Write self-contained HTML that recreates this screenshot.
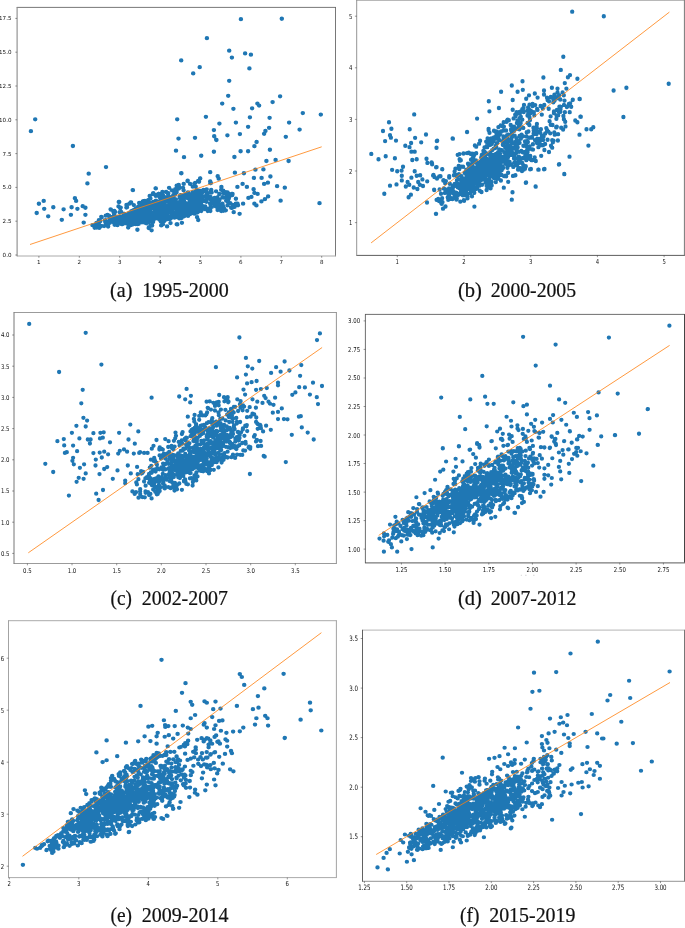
<!DOCTYPE html>
<html lang="en"><head><meta charset="utf-8"><title>Scatter plots</title>
<style>html,body{margin:0;padding:0;background:#fff}svg{display:block}</style></head>
<body><svg width="685" height="928" viewBox="0 0 685 928">
<rect width="685" height="928" fill="#fff"/>
<g id="p0"><g transform="scale(1,0.9556)"><path d="M184.3 224.1h0 M158.4 219.2h0 M202.1 204.9h0 M175.3 212h0 M175.6 208.9h0 M201.8 217.4h0 M158 225.3h0 M153 232.4h0 M119.7 229.1h0 M158.2 228.1h0 M132 225.3h0 M119.7 231.5h0 M143.3 227.3h0 M165.5 207.1h0 M174.4 208.7h0 M192.8 211.3h0 M156.9 217.4h0 M129.5 222.4h0 M194.5 222.9h0 M161.1 211.7h0 M182.9 217h0 M134.9 231.1h0 M197.6 208h0 M152 212.7h0 M164.8 222.1h0 M200.1 216.1h0 M122.7 231.5h0 M192.5 203.9h0 M179.7 221.9h0 M131.6 228.1h0 M197 220.9h0 M179.9 207.3h0 M169.6 222.1h0 M184.5 219.8h0 M156.3 217h0 M151.9 228.1h0 M118.9 231.1h0 M121.7 234.6h0 M123.9 223.9h0 M136 229.4h0 M198.1 221.6h0 M182.1 205.3h0 M130.8 235.6h0 M171 226.1h0 M177.2 227h0 M134.7 221.9h0 M145 232.8h0 M200.1 217.1h0 M171 206.2h0 M142.1 224.1h0 M142.3 226.8h0 M188.7 215.5h0 M137 230.2h0 M156.2 217.9h0 M177.6 223.3h0 M154.1 229.2h0 M162 207.1h0 M149.8 228.1h0 M175.1 215.4h0 M178.2 225.7h0 M188.3 201.5h0 M141.2 227.9h0 M120.7 226.8h0 M160.8 216h0 M193.2 207.5h0 M156.1 214.5h0 M163.6 215.4h0 M189.8 222.6h0 M174.4 224.2h0 M136.9 217.8h0 M180 223.7h0 M129.6 225.5h0 M177.1 212.6h0 M121 227.1h0 M165.4 215.9h0 M165 216.6h0 M146.5 226.3h0 M195.1 213.3h0 M195.5 222.5h0 M148.7 223.3h0 M166.5 222.6h0 M172.4 221.3h0 M203.6 217.5h0 M137.5 226.5h0 M155.4 220.6h0 M141 220.3h0 M185.8 213.2h0 M180.4 220h0 M148.9 218.2h0 M164.1 228.7h0 M191.5 214.7h0 M190.1 218.1h0 M185.6 204h0 M159.3 217.5h0 M167.7 206.9h0 M201.2 220.9h0 M134.3 230.3h0 M133.6 225.1h0 M121.3 231.4h0 M202.4 201.3h0 M180.4 204.1h0 M137.9 225.5h0 M148.7 232.9h0 M146.1 225.7h0 M143.9 225.5h0 M157 224.8h0 M178.9 216.3h0 M132.3 224.9h0 M193.1 215.1h0 M142.4 228h0 M198.6 219.3h0 M176.4 211.7h0 M174.2 222h0 M146.8 216.3h0 M158.8 227.5h0 M200.6 202.5h0 M136.8 230.5h0 M154.3 227.3h0 M167 218.1h0 M162.9 228.4h0 M138.6 234.3h0 M193.4 210.7h0 M151.8 232.1h0 M185.1 224.2h0 M158.3 214.6h0 M145.9 227.1h0 M156.1 217.9h0 M156.7 227.3h0 M138.2 216.3h0 M188.3 219.5h0 M179.4 220.1h0 M165.2 228h0 M166.2 209.3h0 M156.2 217.6h0 M158.8 229.1h0 M193.2 206.4h0 M167.1 229.2h0 M176.1 215h0 M157.7 213.9h0 M170.9 219.1h0 M179.8 222.9h0 M143.3 217.9h0 M149.4 217.5h0 M128.3 234.9h0 M133.5 219.8h0 M164.3 227.2h0 M202.2 207.3h0 M164.8 217.6h0 M201.1 214.7h0 M192.2 205.9h0 M144.8 229.8h0 M200.1 219.3h0 M132.1 227.8h0 M163.4 207.8h0 M177.1 217.7h0 M153 227.1h0 M188.1 202.9h0 M119.7 229.4h0 M133.7 224.2h0 M198 213.6h0 M155.9 216.9h0 M184 204.8h0 M203.1 210.5h0 M181.9 218.2h0 M169 207.2h0 M127 229h0 M180.2 226.8h0 M128.1 225.7h0 M195.7 221.3h0 M131.4 220.9h0 M192.4 212.5h0 M191.1 221.2h0 M169.9 213.9h0 M198.2 220.1h0 M167.2 217.3h0 M197.2 220.7h0 M160 229.2h0 M119.2 227.1h0 M174.5 227.8h0 M188.3 215.1h0 M121.8 226.9h0 M161.4 230.6h0 M194.8 204.2h0 M149.2 214.1h0 M152.3 213.1h0 M141.4 230.2h0 M177 220.8h0 M170 211h0 M191.6 208h0 M145.2 226.1h0 M150.2 221.7h0 M193 206.5h0 M145.4 231.2h0 M187.1 222.1h0 M139.8 227.4h0 M148.6 217.5h0 M188.7 212.7h0 M146.1 226.5h0 M195.2 211.8h0 M136.4 234.1h0 M125.6 233.5h0 M156 225.1h0 M168 211.1h0 M173.1 209.7h0 M198.6 208.8h0 M122.6 234.5h0 M157 214.7h0 M195.5 204.3h0 M199.8 209.2h0 M166.8 215.5h0 M166.3 226.2h0 M174.9 203.9h0 M184.3 212h0 M165.5 221.8h0 M148.6 226.1h0 M174.5 214.2h0 M198.4 219.8h0 M150 226.3h0 M153.4 228.2h0 M128.6 227.3h0 M129.5 222.8h0 M138.4 223.4h0 M122.8 230.2h0 M142.5 214.7h0 M142.3 220.8h0 M154.7 211.7h0 M192.2 206.5h0 M172.6 219.5h0 M195.9 215.7h0 M146.6 220.1h0 M191.1 207.1h0 M146.9 227.5h0 M162 217.7h0 M155.9 209.9h0 M200.8 214.4h0 M176.1 225.1h0 M149.3 222.5h0 M163 214.7h0 M192.2 214.6h0 M191.9 221.5h0 M145.4 231.6h0 M118 229.5h0 M163 226.8h0 M167 225.4h0 M164 231.4h0 M150.8 225.7h0 M135.6 234.4h0 M183 218.5h0 M181.2 227.7h0 M195.7 200.5h0 M184 215.8h0 M140.7 227.2h0 M183.2 211.8h0 M146.4 231.8h0 M144.7 217.4h0 M182.6 205.4h0 M160.9 208.9h0 M167 223.8h0 M173.4 213.3h0 M124.8 225.8h0 M137.8 228.7h0 M171.1 216h0 M124.9 232.5h0 M133.3 220.9h0 M189.5 213.3h0 M176.3 214.5h0 M161 224.1h0 M156 211.2h0 M140.9 227.4h0 M181.4 221.6h0 M150.7 223.6h0 M142.6 225.1h0 M197.8 213.9h0 M139.3 229.8h0 M161.6 223.2h0 M161.5 207.9h0 M153.8 222.5h0 M129.6 233.9h0 M147 216.8h0 M188 226h0 M132.8 233.5h0 M166 228.1h0 M191.2 220.8h0 M145.6 223.2h0 M169.6 220.5h0 M148.5 220h0 M188 219.6h0 M182.3 206.9h0 M195.2 207.1h0 M198.7 212.3h0 M187.4 202.6h0 M159.6 230h0 M164.5 224h0 M181.8 211.2h0 M135.2 222h0 M173.2 214.3h0 M118.5 228.1h0 M171.8 219h0 M192.8 201h0 M136.7 222.6h0 M194.1 205h0 M161.9 210.7h0 M190.6 222.5h0 M154.6 217.7h0 M186.3 218.2h0 M161.9 215h0 M123.9 230.4h0 M166.5 216.4h0 M155 219.7h0 M157.1 228.6h0 M141.8 231.6h0 M139.1 233.4h0 M136.7 230.9h0 M174 222.5h0 M189.3 205.2h0 M192.8 222.7h0 M137 232.5h0 M161.8 224.1h0 M164.7 226.9h0 M189.7 219.2h0 M195.1 207.5h0 M121 227.7h0 M145.3 216.3h0 M149.7 221.8h0 M164.4 213.6h0 M187.2 219.8h0 M173.8 222.1h0 M159.3 219.1h0 M190.5 214.7h0 M173.3 206.6h0 M172.4 226h0 M151.7 217.4h0 M145.5 223.5h0 M176.7 214.5h0 M171.9 221.5h0 M137.3 234.6h0 M164.2 214.2h0 M158 219h0 M182.3 204.9h0 M123 234.1h0 M181.2 221.7h0 M176.6 215.7h0 M145.5 233.3h0 M132.5 223.6h0 M197.2 222.5h0 M157.5 217.9h0 M201.6 211.2h0 M189 203.1h0 M151.3 227.8h0 M179.3 228.6h0 M165.5 209.9h0 M147.7 228.4h0 M148.6 221.1h0 M129 227.5h0 M171.7 209.2h0 M194.6 204.9h0 M142.5 220.8h0 M144.2 230.5h0 M173.3 204.3h0 M167.7 208.1h0 M141.1 221.4h0 M137.8 232.1h0 M180.7 224.9h0 M177.7 216.5h0 M180.8 204.2h0 M185.2 203.4h0 M124.7 230.7h0 M167 222h0 M186.4 222h0 M186 221.8h0 M139.3 233.2h0 M118.7 233.8h0 M182.9 208h0 M122.9 233.1h0 M189 213.7h0 M125 224.4h0 M141 225h0 M153.9 213.8h0 M193.5 211.8h0 M173.1 226.1h0 M185.5 213.4h0 M142.8 221.7h0 M160.8 231.7h0 M181.8 206h0 M158.5 213.3h0 M194.8 221.3h0 M183.5 222.6h0 M162 224.5h0 M124.1 230.1h0 M171.3 223.6h0 M169.4 221.1h0 M130.8 227.4h0 M164 226h0 M157 227.2h0 M130.6 230h0 M166.6 217.8h0 M193 216.5h0 M138 220.7h0 M198.8 209.9h0 M180.3 224.3h0 M157.4 211.9h0 M157.5 228.2h0 M172 218.6h0 M195 207.8h0 M158.3 227.4h0 M136 232.7h0 M190.5 214.5h0 M197.5 212.2h0 M159.8 224.9h0 M201.1 207.5h0 M124.6 223.9h0 M179.2 211.5h0 M160.2 228.1h0 M166.2 228.1h0 M167.7 229h0 M140.7 224.9h0 M168.4 217.6h0 M181.7 218.3h0 M165.8 206.5h0 M122 233.7h0 M160.8 229h0 M180.1 215.9h0 M143.4 232.5h0 M130.3 223.5h0 M187.1 220.1h0 M184.1 226.4h0 M157 210.9h0 M179.2 215h0 M190.8 217.6h0 M186.6 220.5h0 M152.6 213.3h0 M142.9 218.8h0 M174.7 208.7h0 M138.7 224.9h0 M135.8 222.1h0 M148.6 217.1h0 M193.5 209.9h0 M142.9 220.7h0 M196.1 218.2h0 M137.4 224.4h0 M183.5 204.4h0 M179.7 216.1h0 M130 225.2h0 M185.2 215.5h0 M148.7 214h0 M146 230.4h0 M152 227.3h0 M184.6 205.8h0 M131.3 224.8h0 M194.2 214.4h0 M181.3 205.9h0 M160.1 207.3h0 M144.5 229.4h0 M152.3 227.9h0 M128.7 223.3h0 M121.7 230.6h0 M136.2 230.5h0 M188.3 207.7h0 M184 210.4h0 M130.2 234h0 M141.6 225.7h0 M129.6 234.6h0 M190 210.2h0 M157 219.1h0 M164.7 211.1h0 M134.5 234h0 M195.2 213.5h0 M179.5 213.2h0 M201.8 208.3h0 M197 208.4h0 M172.3 211.7h0 M199.1 201.8h0 M194.3 223.6h0 M151.4 226.8h0 M141.2 218.6h0 M175.4 223.8h0 M135.9 233.9h0 M177.7 216.4h0 M138.1 232.3h0 M164.4 209.1h0 M186.6 220.2h0 M195.2 218.4h0 M198.4 212.8h0 M169.6 226.9h0 M170.8 228.4h0 M139.5 227.8h0 M149.1 226.9h0 M199 210.1h0 M198.9 204.4h0 M195.8 207.3h0 M139.9 227.1h0 M194.4 213.4h0 M184.9 213h0 M203.7 216.3h0 M135 232.2h0 M186.9 207.1h0 M141.9 232.6h0 M141.2 222.7h0 M146.3 217h0 M144.2 228.3h0 M195.6 206.1h0 M196.4 218.2h0 M180 226.6h0 M183.2 217.9h0 M135.8 225.1h0 M190 205.5h0 M196 215.7h0 M148.2 225h0 M160.2 215.2h0 M175.8 208.6h0 M202 209.3h0 M135.6 218.6h0 M177.5 224.3h0 M165.9 229.9h0 M196.3 219.4h0 M203.2 209.4h0 M125.8 226.3h0 M123.8 230.3h0 M164.6 216.2h0 M180.7 209.4h0 M140.6 217.6h0 M196.7 211.7h0 M163.1 228.2h0 M158.6 222.3h0 M187.9 216.1h0 M130.7 225.9h0 M130.5 224.9h0 M147.9 231.6h0 M157.8 218.9h0 M181.5 228.2h0 M140.2 219.3h0 M179.7 221.1h0 M139.7 229.9h0 M160.9 229h0 M127 231.4h0 M147.9 218.3h0 M153.3 211.4h0 M129.8 224.6h0 M160.3 211.6h0 M166.1 223.1h0 M133.1 234.7h0 M169.8 229.5h0 M179.7 205.7h0 M182.7 210.3h0 M166.2 219.6h0 M178.1 227.5h0 M162.4 217.5h0 M173.4 223.5h0 M123.4 226.3h0 M152.7 226.6h0 M201.4 208.9h0 M143.4 227.4h0 M181.3 225.8h0 M151.6 215.1h0 M135 224.3h0 M173.4 221.8h0 M152.2 218.2h0 M176.1 217.2h0 M199.5 219.6h0 M137 223.5h0 M123.7 228.8h0 M117.4 232h0 M178.4 213.1h0 M135.6 230.7h0 M144.8 216.8h0 M133.2 229.6h0 M135.3 234.1h0 M180.3 217h0 M200.6 203.2h0 M201 213.9h0 M152.4 231.8h0 M147.1 217.5h0 M136.8 226.6h0 M165.4 214.9h0 M196.4 210.3h0 M186.3 221.4h0 M171.1 221.7h0 M139.4 217.3h0 M201.4 220.1h0 M144.6 224.7h0 M140.8 224.1h0 M118.9 232.7h0 M141.1 217.6h0 M163.9 222.2h0 M202.9 206.1h0 M121.3 232.3h0 M120.3 231.6h0 M185.9 215.3h0 M160.8 228.6h0 M135.1 220.3h0 M179.7 213.2h0 M146.3 233.6h0 M124.9 228.9h0 M122.3 234.6h0 M171.8 227.1h0 M176.9 227.2h0 M138.5 229.9h0 M135.7 224.6h0 M175.2 223.1h0 M165.8 219.2h0 M177.8 226.2h0 M161.9 212.2h0 M201 205.6h0 M157.1 211.8h0 M127.2 225.5h0 M133.5 233h0 M166.3 215.2h0 M185.3 212.3h0 M181 212.6h0 M149.7 212.8h0 M164.5 209.7h0 M170.5 222.1h0 M181.4 212.2h0 M133.1 227.5h0 M154.2 222.7h0 M153.2 230.9h0 M155.6 217.4h0 M149.6 229.5h0 M120.5 234h0 M174.6 209.3h0 M161.9 221.7h0 M124.6 233.2h0 M196.1 213.3h0 M186.5 219.4h0 M153.7 216.2h0 M126.7 231h0 M159.3 217.4h0 M192.7 219.2h0 M200.4 217.1h0 M201.9 215.5h0 M163 220.5h0 M191.3 223.1h0 M117.5 232.2h0 M150 212.4h0 M199.8 215.4h0 M137.6 229.4h0 M150.9 215.2h0 M198 218.2h0 M200.5 213.6h0 M190.5 205.3h0 M195.5 206.6h0 M155.2 224.7h0 M187.8 215.8h0 M190.9 215.3h0 M188.3 216.4h0 M184.5 223.7h0 M193.6 203.3h0 M175 217.4h0 M187.7 204.7h0 M198.2 210.4h0 M176.2 216.3h0 M195.9 222.7h0 M189.4 220.5h0 M190 224.1h0 M143.9 227.4h0 M180.4 214.1h0 M161.5 219.2h0 M147.8 232.6h0 M135.3 233.9h0 M125.5 232.7h0 M127.9 232h0 M161 218.8h0 M158.2 211.2h0 M162.7 212.9h0 M180.8 219.7h0 M139.4 225.6h0 M137.3 224.2h0 M171.1 210.9h0 M176.4 221.7h0 M162.3 216.4h0 M120.9 227.2h0 M125.4 233.5h0 M176.6 227h0 M172.7 226.6h0 M159.4 229.5h0 M145.1 216.9h0 M193.3 208.4h0 M169.6 206.2h0 M155.3 212.5h0 M194.8 213.8h0 M211 209.4h0 M228.9 206.9h0 M222.8 215h0 M214.3 210.9h0 M207.7 202.6h0 M228.7 203h0 M217.9 211.8h0 M227.7 204.7h0 M226.3 203.6h0 M225.9 201.2h0 M221 217.4h0 M217.4 207.5h0 M205.3 218.3h0 M219.3 203h0 M212.2 209.9h0 M215.1 214h0 M207 208.5h0 M231.1 203.2h0 M204.7 210h0 M203.5 198.6h0 M226.3 207.6h0 M228.7 207.9h0 M221.4 215h0 M217.4 206.7h0 M211.1 199.7h0 M214.6 207.2h0 M231.2 217.4h0 M227 202.5h0 M207.2 205.6h0 M207.8 220.8h0 M208 219h0 M218.7 218.2h0 M206.7 203.6h0 M220.1 214.3h0 M219.9 214.9h0 M230.4 204.7h0 M217.6 218h0 M232.2 204.2h0 M237.5 213.2h0 M211.3 207.5h0 M210.1 219.6h0 M238 214.8h0 M219.2 209.9h0 M210.8 215h0 M227.2 205.4h0 M227.5 206.1h0 M222.9 216.1h0 M211.8 216.5h0 M227.9 202.4h0 M221.5 216.4h0 M217.6 219.8h0 M230.2 212.6h0 M222.4 213.2h0 M210.4 206.1h0 M232.5 203h0 M234.1 214.9h0 M215.9 214.6h0 M211.3 213h0 M235.8 213.2h0 M223.2 199.5h0 M232.5 214.3h0 M237.2 214.2h0 M211.6 201.5h0 M223.2 220.6h0 M203.5 199h0 M224 218.1h0 M226.2 210h0 M228.3 206.6h0 M215.7 208h0 M206.4 211.1h0 M205.1 216h0 M210.4 206.6h0 M235.9 208h0 M221.3 220.9h0 M223.2 206.8h0 M221.2 198.6h0 M232.2 217.5h0 M213.3 210.9h0 M227.5 201.4h0 M232.3 203.9h0 M208.3 218.3h0 M204.4 205.7h0 M224.8 220.1h0 M232.8 216h0 M210.3 220.9h0 M216.1 200.2h0 M211.2 198.7h0 M210.3 201.4h0 M227.2 203.4h0 M219.5 208.9h0 M206.3 200.9h0 M211.8 209.2h0 M215.9 216h0 M209.8 206.3h0 M231.7 202.9h0 M215.9 215.8h0 M234.5 216.5h0 M216.2 209.6h0 M228.1 202.5h0 M227.9 210.1h0 M222.5 218.9h0 M219.2 216.5h0 M218.3 211.5h0 M222.5 206.4h0 M210.1 213h0 M206.7 198.1h0 M204.6 218.7h0 M217.6 207.2h0 M216.8 208.9h0 M227.5 210.9h0 M215.8 212.9h0 M223.3 202h0 M225.8 220.1h0 M227.5 215h0 M214.7 211.4h0 M112.4 227.9h0 M109.7 228.3h0 M112.3 230.7h0 M94.8 235.4h0 M114.6 229.7h0 M100.2 231.5h0 M96.5 233.3h0 M115 229.7h0 M114.2 224.6h0 M109.1 232.8h0 M104.8 230.6h0 M117.4 235.6h0 M114.6 235.2h0 M115.2 232.6h0 M96.6 238.1h0 M112.8 227.1h0 M110.3 228.3h0 M107.1 234.9h0 M97 235.3h0 M100.1 237.4h0 M116.6 229.3h0 M108.1 237.1h0 M92.5 235.6h0 M94.7 238.4h0 M105.5 230.5h0 M115.8 227.9h0 M109.7 231.3h0 M98.9 230.5h0 M105.4 232.6h0 M113 229.3h0 M115.4 226.8h0 M117.1 227.1h0 M113 232.4h0 M111.9 227.2h0 M104.1 236.6h0 M116.5 234.3h0 M109.6 233.3h0 M101.2 236.5h0 M99.1 236.6h0 M108.3 234.7h0 M99 234.2h0 M99.7 230.6h0 M142.3 211.9h0 M133.8 214.6h0 M113.6 222.1h0 M119.9 217.4h0 M145.8 211.2h0 M144.6 211.4h0 M126.5 214.4h0 M142.7 211.1h0 M119.7 222.1h0 M109 225.7h0 M129.4 213.1h0 M127 216.9h0 M139.2 212.4h0 M120.4 218h0 M141.3 212.3h0 M146.1 212.6h0 M118.5 216h0 M121.1 221.7h0 M126.4 217.2h0 M105.8 225.7h0 M143.2 210.6h0 M148.2 209.5h0 M120.7 217.2h0 M107.6 224.8h0 M150.8 236.2h0 M151.6 241h0 M137.4 240.4h0 M170.5 233.4h0 M198.2 230.2h0 M181.9 233.2h0 M148.7 238.7h0 M148.9 237.8h0 M167.1 236.9h0 M152.1 236h0 M161.2 235.9h0 M177.3 234.9h0 M128.2 238.1h0 M163 234.7h0 M210.9 191.6h0 M176.6 201h0 M195.2 191.3h0 M178.7 193.5h0 M197.9 199.5h0 M195.7 195.3h0 M194.5 192.1h0 M174.4 202h0 M198.8 199.4h0 M168.1 202.9h0 M140.3 216.4h0 M178.9 197.3h0 M162.4 200.9h0 M144.9 210.3h0 M200.2 199.9h0 M162.2 202.3h0 M171.9 199.2h0 M160.6 203.1h0 M210.3 191.7h0 M199 190.2h0 M183.7 192.5h0 M198.2 189.2h0 M149.7 205.1h0 M168.3 202h0 M150.4 207.7h0 M177.9 196.9h0 M173.5 199.5h0 M158.8 205.2h0 M176.4 200.1h0 M176.2 201.5h0 M183 196.6h0 M179.2 195.9h0 M175.3 198h0 M156.4 203.9h0 M143.9 214.4h0 M183.6 199.2h0 M166.1 200.9h0 M155.8 205h0 M163.1 204.7h0 M148.5 209.6h0 M192.8 195.4h0 M187.9 201.3h0 M196.7 199h0 M148.7 209.3h0 M197.8 200.7h0 M35.2 124.9h0 M30.9 137.3h0 M72.9 152.8h0 M240.9 20.1h0 M281.8 19.6h0 M206.9 40h0 M229.2 53h0 M245.1 55.9h0 M250.9 57.2h0 M231.9 60.3h0 M181.2 63.2h0 M199.7 70.3h0 M249.4 71.6h0 M193.2 76.8h0 M229.2 84.6h0 M228.2 100.3h0 M280.1 100.8h0 M272.6 106.8h0 M222.2 108.4h0 M257.4 108.4h0 M259.1 110.5h0 M252.1 113.4h0 M233.4 113.9h0 M302.8 118.3h0 M320.8 119.9h0 M205.9 122.3h0 M249.9 122.8h0 M269.6 123.3h0 M177.2 124.9h0 M235.9 128.3h0 M289.1 128.3h0 M219.4 129.3h0 M248.1 132.7h0 M269.1 133.8h0 M299.6 135.6h0 M213.9 136.1h0 M265.4 137.1h0 M264.1 140h0 M239.9 140.3h0 M227.4 141.6h0 M214.2 142.6h0 M285.8 143.2h0 M195 144.2h0 M178.5 145h0 M216.2 146.3h0 M256.6 148.6h0 M254.4 153h0 M216.4 146.5h0 M176 157.7h0 M213.9 158.8h0 M240.6 158.3h0 M248.1 158.3h0 M269.9 156.7h0 M184 164.5h0 M201.2 163h0 M234.4 164.3h0 M266.4 168.5h0 M275.6 167.4h0 M288.6 168.5h0 M181.2 181.3h0 M210.2 180.2h0 M234.9 180.7h0 M243.9 181.3h0 M255.4 177.6h0 M263.4 177.3h0 M217.7 184.4h0 M218.7 187h0 M200.2 186.7h0 M253.9 186.2h0 M261.6 186.2h0 M270.4 184.7h0 M187.7 189.1h0 M210.2 189.9h0 M242.6 192.5h0 M264.1 192.5h0 M267.9 191.2h0 M277.1 194.8h0 M284.8 196.4h0 M176.7 194.3h0 M237.4 195.6h0 M246.9 195.6h0 M221.4 195.6h0 M253.6 198h0 M254.4 201.9h0 M257.6 202.9h0 M268.1 205.6h0 M264.9 208.4h0 M261.4 210.8h0 M280.6 210h0 M319.5 212.6h0 M256.4 215h0 M254.4 213.1h0 M248.4 207.1h0 M251.4 206.1h0 M243.1 213.1h0 M239.6 223.8h0 M233.7 222h0 M176.7 234.8h0 M106 174.8h0 M88.7 181.7h0 M87.4 191.9h0 M132.9 199h0 M155.8 197.2h0 M152.8 203h0 M158.8 203h0 M38.9 213.2h0 M43.7 210.3h0 M44.2 218.5h0 M36.7 222.9h0 M53.3 216.9h0 M48.2 226.4h0 M63.6 219h0 M61.8 230h0 M71.6 216.9h0 M70.9 224.8h0 M74.9 207.4h0 M76.1 210.3h0 M77.4 218.5h0 M82.7 215.8h0 M85.4 217.4h0 M85.4 224.8h0 M83.7 232.9h0 M118.8 211.4h0 M130.7 211.9h0 M110.6 219h0 M114.3 220.6h0 M101.3 226.9h0 M94.2 236.1h0 M99.2 238.5h0 M181.4 181.3h0 M200.1 186.8h0 M187.5 189.5h0 M190.1 192.5h0 M132.7 198.9h0 M155.6 197.1h0 M177 194.7h0 M169.1 196.5h0 M153.3 202h0 M158.6 202.9h0 M119.2 211.4h0 M131.1 211.9h0 M110.9 219.4h0 M115.1 221.8h0 M101.6 227.3h0 M93.8 235.9h0 M99 237.8h0 M177 234.6h0 M197.1 227.3h0" fill="none" stroke="#1f77b4" stroke-width="4.50" stroke-linecap="round"/></g>
<path d="M30.0 244.5L321.7 146.8" stroke="#ff7f0e" stroke-width="0.80" fill="none"/>
<path d="M16.8 7.4H335.8" stroke="#555" stroke-width="0.80"/>
<path d="M335.5 7.1V256.3" stroke="#555" stroke-width="0.80"/>
<path d="M16.8 256.0H335.8" stroke="#aaa" stroke-width="1.00"/>
<path d="M17.1 7.1V256.3" stroke="#8a8a8a" stroke-width="1.10"/>
<path d="M17.1 255.0h-1.8M17.1 221.2h-1.8M17.1 187.4h-1.8M17.1 153.6h-1.8M17.1 119.8h-1.8M17.1 86.0h-1.8M17.1 52.2h-1.8M17.1 18.4h-1.8M38.9 256.0v1.8M79.3 256.0v1.8M119.7 256.0v1.8M160.1 256.0v1.8M200.5 256.0v1.8M240.9 256.0v1.8M281.3 256.0v1.8M321.7 256.0v1.8" stroke="#333" stroke-width="0.5" fill="none"/>
<g font-family="'DejaVu Sans','Liberation Sans',sans-serif" font-size="5.60" fill="#111"><text transform="translate(11.5,257.0) scale(1,1.000)" text-anchor="end">0.0</text><text transform="translate(11.5,223.2) scale(1,1.000)" text-anchor="end">2.5</text><text transform="translate(11.5,189.4) scale(1,1.000)" text-anchor="end">5.0</text><text transform="translate(11.5,155.6) scale(1,1.000)" text-anchor="end">7.5</text><text transform="translate(11.5,121.8) scale(1,1.000)" text-anchor="end">10.0</text><text transform="translate(11.5,88.0) scale(1,1.000)" text-anchor="end">12.5</text><text transform="translate(11.5,54.2) scale(1,1.000)" text-anchor="end">15.0</text><text transform="translate(11.5,20.4) scale(1,1.000)" text-anchor="end">17.5</text><text transform="translate(38.9,264.0) scale(1,1.000)" text-anchor="middle">1</text><text transform="translate(79.3,264.0) scale(1,1.000)" text-anchor="middle">2</text><text transform="translate(119.7,264.0) scale(1,1.000)" text-anchor="middle">3</text><text transform="translate(160.1,264.0) scale(1,1.000)" text-anchor="middle">4</text><text transform="translate(200.5,264.0) scale(1,1.000)" text-anchor="middle">5</text><text transform="translate(240.9,264.0) scale(1,1.000)" text-anchor="middle">6</text><text transform="translate(281.3,264.0) scale(1,1.000)" text-anchor="middle">7</text><text transform="translate(321.7,264.0) scale(1,1.000)" text-anchor="middle">8</text></g></g>
<g id="p1"><g transform="scale(1,1.0233)"><path d="M528.4 110.5h0 M455.7 192.3h0 M524.9 141.9h0 M481.1 169.8h0 M479.3 158.7h0 M439.6 185.2h0 M508.3 145.3h0 M453.8 187.3h0 M468 160h0 M523.3 125h0 M473.8 186.5h0 M493 138h0 M530.8 108.2h0 M493.2 171.3h0 M470.6 185.1h0 M449.1 191.1h0 M460 157h0 M504.8 156.6h0 M491.7 181.2h0 M463.9 187.6h0 M474.9 142.2h0 M494.7 156.8h0 M458.7 180.6h0 M519.4 126.4h0 M448.7 189.8h0 M533.7 127.6h0 M533.4 124.9h0 M490.5 154.5h0 M447.7 192.7h0 M525.8 153.7h0 M518.4 164.3h0 M507.4 146.5h0 M494 127.8h0 M516.1 126.1h0 M450.4 194.3h0 M509.2 161.2h0 M518.9 153.2h0 M498.7 129.4h0 M540 141.7h0 M456.3 189.1h0 M499.2 137.1h0 M503.4 136.6h0 M493.9 173.9h0 M487.1 138.9h0 M503.4 127.6h0 M518.6 137.7h0 M519.6 115.5h0 M512 139.7h0 M491.2 163.6h0 M520 120.5h0 M472.2 161.7h0 M499.3 131.8h0 M499.2 146.1h0 M527.7 112.5h0 M521.6 131.7h0 M521.7 165h0 M445.5 187.4h0 M451.5 186.4h0 M500.4 165.1h0 M504 135.8h0 M529.5 143.1h0 M470.6 170.1h0 M498.6 132.8h0 M454 182.1h0 M498.6 160.3h0 M509.9 136.7h0 M471.1 186.2h0 M507.7 117h0 M516.6 109.7h0 M522.2 159.3h0 M517.1 161.7h0 M513.2 144.7h0 M506.9 143.3h0 M488.6 127h0 M487.6 137h0 M520.7 120.3h0 M512 123.7h0 M489.9 138.3h0 M475.9 156.7h0 M490.5 164h0 M514 123.8h0 M504 172.1h0 M498.4 174.5h0 M515.4 171.2h0 M490.7 167.2h0 M493.8 145.2h0 M525 138.2h0 M491 139.1h0 M505.5 171.7h0 M528.9 154.7h0 M487.1 175.8h0 M454.7 189.3h0 M488.9 162.3h0 M486 155.9h0 M506.6 119h0 M520.2 164.3h0 M475.7 184.8h0 M449.8 179.6h0 M447.6 187.9h0 M459.5 184h0 M481.5 187.7h0 M526.5 133.4h0 M496.5 128.4h0 M470.3 161h0 M470.5 150.3h0 M482.8 167h0 M479 176.4h0 M520.9 165.9h0 M477.5 162.6h0 M499.7 166h0 M508.2 177.7h0 M506.1 127.6h0 M481.8 173.9h0 M464.1 190.2h0 M487.3 176.4h0 M518.4 165.6h0 M516.9 120.2h0 M454.7 179.8h0 M466.4 188.3h0 M509.3 144.6h0 M468.8 149.2h0 M496.5 159.2h0 M500.3 130.6h0 M531.6 156.5h0 M487.2 143.8h0 M473.2 150.4h0 M518.6 125.5h0 M496.4 130.2h0 M452.4 194.4h0 M445.5 201.8h0 M488.8 140.8h0 M515.5 113.5h0 M525.9 148.2h0 M488.2 139.1h0 M501.6 170.9h0 M472 191.9h0 M540.1 135.7h0 M492.4 172.5h0 M458.9 170.2h0 M450.1 193.8h0 M518.9 123.3h0 M515.6 160.3h0 M486.2 138.4h0 M489.3 163h0 M465.4 187.9h0 M474 151.7h0 M532.1 134.5h0 M481.8 151.5h0 M514.5 151h0 M500.5 159.8h0 M488.7 157.6h0 M497 170.7h0 M466.7 170.3h0 M498.8 136.2h0 M537.4 137.1h0 M499.4 153.1h0 M447.2 187.7h0 M495.9 142.5h0 M484.1 161.6h0 M445.2 179.1h0 M467.3 190.7h0 M501.1 156.3h0 M519.4 159.1h0 M472.2 169.8h0 M530.3 110.7h0 M513 171.9h0 M530 117.3h0 M505 156.6h0 M495.7 134.6h0 M498.2 134.2h0 M504.2 148.8h0 M487.1 181.7h0 M464.6 168.8h0 M463.3 178.8h0 M541.2 152.3h0 M528.8 121.1h0 M511.7 130.8h0 M501 128.4h0 M473.4 183h0 M508.3 131.6h0 M526.8 151.2h0 M491.8 140.6h0 M461.8 175.9h0 M503.9 123.7h0 M459.3 165.2h0 M523.3 108.7h0 M513.6 115.7h0 M518 165.7h0 M480.1 137.6h0 M529.2 134.6h0 M458.7 162.2h0 M453.4 181.3h0 M457.4 179.4h0 M518.6 119.5h0 M491.2 135.3h0 M448.2 195.3h0 M502.4 162.6h0 M529.5 114.6h0 M503.4 133.3h0 M542.9 141.9h0 M452.4 183.1h0 M507.5 134.8h0 M502.9 138.1h0 M460.8 156.5h0 M476.2 143.3h0 M440.7 197.2h0 M468.6 172.4h0 M496.5 174.1h0 M466.6 168.8h0 M503.3 141.8h0 M476.2 149.8h0 M477.2 183.5h0 M492.8 168h0 M511.4 160.7h0 M496.7 171.7h0 M525.5 139.6h0 M442.5 197.5h0 M493.4 168.5h0 M503.7 119.4h0 M491.6 137.7h0 M472.5 157.9h0 M497.1 168.2h0 M528.1 104.9h0 M529.5 102.2h0 M505.6 136.6h0 M527.2 150h0 M499.7 167.3h0 M454.6 180.1h0 M481.5 154.6h0 M500.6 146.6h0 M493 163.8h0 M500.7 122.7h0 M483.4 147.4h0 M508.1 149.2h0 M523.8 165.6h0 M528.4 128.5h0 M491.5 177.8h0 M503.7 134.6h0 M516.8 145.6h0 M470.2 171.2h0 M498.4 124.2h0 M507.1 132h0 M527 147h0 M442.1 193.8h0 M475.9 164.6h0 M504.5 134.2h0 M468 183.3h0 M529.3 145.4h0 M456.9 172.2h0 M497 140h0 M495.1 144.6h0 M507.1 117.6h0 M523.3 161.5h0 M473.6 166.6h0 M471 156.1h0 M535.2 129.3h0 M533 146.2h0 M522.1 154.7h0 M508.1 138.7h0 M523.5 105.4h0 M519.1 154.7h0 M506.9 149.8h0 M476 168h0 M508.2 145.5h0 M495.8 177.9h0 M514.7 132.5h0 M482 173.7h0 M522.9 133.2h0 M507.2 140.1h0 M529.4 122.1h0 M532.7 156.3h0 M502.3 123.2h0 M467.4 192.1h0 M523 154.7h0 M522.3 116.9h0 M538.2 128.9h0 M498.7 151.5h0 M497.3 165.4h0 M469.1 169.3h0 M464.1 196.2h0 M515.5 138.7h0 M510.7 122.2h0 M539.6 139.1h0 M463.8 179.5h0 M539.9 135.9h0 M479.6 158.8h0 M508.8 117.5h0 M519.6 139.6h0 M472.6 154.4h0 M466.6 170.9h0 M506.6 160h0 M461.5 185.1h0 M473.9 168.3h0 M490.2 178.3h0 M522.3 106.6h0 M474.6 167.9h0 M455.4 164.8h0 M472.4 160.4h0 M478.4 173.2h0 M485.2 151.9h0 M499.6 154h0 M541.3 141.7h0 M471.2 156.2h0 M449 184.2h0 M455.1 170.7h0 M511.5 151.2h0 M488.6 125.9h0 M482.1 153.8h0 M477 176.7h0 M471.9 150.3h0 M512 134h0 M481.4 162.4h0 M506.2 172.3h0 M527.5 112.8h0 M526.2 140.7h0 M538.4 143.8h0 M535.2 127.8h0 M454.6 167.6h0 M520.8 114h0 M527.6 120.1h0 M532.9 141h0 M495.3 170h0 M508.8 158.9h0 M505.6 139.2h0 M517.5 117.6h0 M519.6 132.8h0 M511.2 127.6h0 M515.2 112.1h0 M490.6 184h0 M536.5 131h0 M461.1 162.8h0 M537.3 135.5h0 M463.5 150h0 M480.2 163.7h0 M532.3 146h0 M473.3 153.9h0 M479.1 140.4h0 M465.5 176.5h0 M527.6 148.6h0 M496.9 174.6h0 M506 144.8h0 M496.3 135.5h0 M449.2 172.2h0 M536.5 136.7h0 M469.1 162.8h0 M483.9 154h0 M516.8 143.9h0 M534.7 153.8h0 M509.8 151.3h0 M520.9 134.6h0 M450.4 193.4h0 M456.3 188.6h0 M518.5 165.4h0 M493.5 138.4h0 M525 153.2h0 M489.2 151.2h0 M465.4 181.4h0 M522.8 148.8h0 M525.8 162.5h0 M506.4 139.6h0 M510 151.2h0 M519.1 156.9h0 M499 165.5h0 M478.8 159.1h0 M463.1 162.9h0 M486.6 181.4h0 M526.3 156.5h0 M517.2 111.2h0 M522 167.2h0 M475.5 158.3h0 M511.9 140.2h0 M485.6 161h0 M513.3 163.1h0 M511.5 144.6h0 M499.3 170.6h0 M511.5 137.2h0 M523.7 109.5h0 M467.6 192.2h0 M514 127.9h0 M460.3 197h0 M533.7 131.1h0 M464.4 186.2h0 M492.2 146.7h0 M508.1 153.4h0 M514.6 124.3h0 M445.1 185h0 M530.4 155.7h0 M511.1 137.9h0 M536.6 123.6h0 M526.6 138.1h0 M516.6 159.1h0 M527.9 138.7h0 M483.5 149.5h0 M494 169.9h0 M511 126.3h0 M494 134.3h0 M511.1 160.9h0 M448.9 186.3h0 M514 154.8h0 M526.7 129.3h0 M521.4 108.6h0 M520.7 155.5h0 M535.1 137.1h0 M499.1 166.3h0 M526 141.9h0 M519.5 109.3h0 M487.6 135.2h0 M486.8 142.7h0 M471.4 163.7h0 M490 141.6h0 M526 150.1h0 M519.9 110.6h0 M500.9 176.4h0 M498.4 153.3h0 M521.5 124.2h0 M466.8 168.8h0 M462.3 179.1h0 M489.5 129.8h0 M523.4 142.4h0 M537 139.8h0 M468.2 169.5h0 M468.6 160.4h0 M496.1 133.4h0 M467.5 177.7h0 M535.8 157.4h0 M516.4 135.1h0 M498.3 150.2h0 M543.1 136.9h0 M474.1 174.9h0 M527.4 108h0 M537.6 95.4h0 M534.3 112.6h0 M560.4 109.3h0 M558.2 95.3h0 M569.7 109.6h0 M547.6 97.8h0 M562.6 90.3h0 M545.1 140.7h0 M553.5 137.6h0 M547.6 136.6h0 M528.7 106.4h0 M545.2 130.5h0 M554.6 93.9h0 M552.2 144.3h0 M547 95.5h0 M550.7 121.9h0 M554.7 131.6h0 M540.9 135.7h0 M561.2 124.8h0 M542.8 106.1h0 M560.4 104.4h0 M554.1 98.7h0 M557.5 90.4h0 M556.8 123.8h0 M556.6 112.8h0 M564 102.5h0 M550.6 113.7h0 M553.3 100h0 M556.9 107.4h0 M556.4 116.1h0 M533.6 130.4h0 M575.3 117.8h0 M550.2 130.3h0 M559.1 93h0 M535.2 102.7h0 M532.6 101.7h0 M542 132.3h0 M563.9 116.5h0 M552.5 122.2h0 M566.9 104.5h0 M549 99h0 M554.3 129.5h0 M546.3 125.2h0 M548.4 128.6h0 M533.8 109.6h0 M558.2 112.6h0 M552.9 139h0 M559.4 104.2h0 M565.2 119h0 M563.1 126.6h0 M537.1 106.4h0 M550.8 94.8h0 M556.7 95.3h0 M556.2 124.5h0 M547.5 128h0 M560.3 97.2h0 M540.9 126.2h0 M568.9 101.7h0 M558.5 108.6h0 M557.9 137.3h0 M544.4 146.6h0 M571.2 104.3h0 M554.6 98.2h0 M549.6 118.4h0 M560.5 106.8h0 M548.7 106.3h0 M549 148.5h0 M564.9 109.6h0 M558.1 131.1h0 M547.1 127.2h0 M540.6 103.6h0 M536.9 125.3h0 M553.9 110.4h0 M554 108.8h0 M563.4 113.3h0 M563.8 93.1h0 M552.2 137.1h0 M570.1 101h0 M565.5 123.5h0 M541.8 112h0 M567.2 104h0 M551 142.5h0 M543.6 133.5h0 M553.4 97.5h0 M537.5 107.4h0 M477.4 160.7h0 M488.1 177.9h0 M463.9 176h0 M494.2 152.8h0 M494.1 156.6h0 M516.8 147.5h0 M507.4 164h0 M490.3 172.4h0 M502.8 155h0 M475.6 177h0 M475.1 164.1h0 M509.8 143.3h0 M500.2 159.8h0 M473.5 167.9h0 M493.6 154.7h0 M476.3 158.9h0 M493.8 158.9h0 M481.9 173.2h0 M487 160h0 M488.5 157.4h0 M493.3 151.5h0 M476.9 159.1h0 M476.5 165.7h0 M493.2 167.9h0 M482.8 161.9h0 M466.4 165.8h0 M494 162.6h0 M488.8 165.2h0 M495.3 167h0 M458.3 175h0 M500.7 165.9h0 M494.3 165.8h0 M488.5 168.9h0 M496.2 143.3h0 M481.1 168.7h0 M475.5 166.8h0 M461.2 178.6h0 M477.3 171.3h0 M520.8 135.5h0 M484.5 144.2h0 M498 151.3h0 M462.7 178.2h0 M514.8 145.1h0 M476.1 158.5h0 M493.6 162.5h0 M476.5 176.9h0 M473.4 168.9h0 M467.3 182.2h0 M484.2 172.6h0 M488.9 165.7h0 M484.4 168.6h0 M504.8 155.3h0 M480.3 162.3h0 M526.1 153.2h0 M443.8 184.1h0 M461.5 172.2h0 M477.1 173.4h0 M500.2 164.8h0 M492 167.6h0 M466.5 171.6h0 M531.4 134h0 M509.6 158.2h0 M468.1 184.4h0 M469.1 166.3h0 M475 171.9h0 M486.1 149.8h0 M488.5 163.2h0 M504.7 152.6h0 M487.8 162.3h0 M491.2 162.4h0 M492.6 164.8h0 M462.7 174.4h0 M486.6 163.8h0 M480.8 159.2h0 M523.8 148.7h0 M459.4 180.9h0 M469.7 173.2h0 M502.7 164.7h0 M487.7 158.9h0 M490.4 162.5h0 M495.1 167.1h0 M472.8 173.5h0 M480.4 168.3h0 M497.7 166.2h0 M540 142.2h0 M467.5 177.3h0 M511.8 148.7h0 M481.4 158.1h0 M452.3 188.3h0 M467.8 176.5h0 M479.6 174h0 M498.2 166.8h0 M478.5 168h0 M487.8 138.5h0 M475.5 176.6h0 M484.9 162.1h0 M524.5 142.3h0 M478.9 162.8h0 M476.9 164.6h0 M461 187h0 M453.9 171.2h0 M474.2 173.3h0 M482.9 168h0 M495.1 153.2h0 M478 170h0 M481 172.6h0 M508.1 144.8h0 M496.4 162.9h0 M486.2 157.7h0 M456.8 194.2h0 M479.5 174.3h0 M485.8 158.8h0 M481.5 166.7h0 M507.2 153.9h0 M486.6 166.8h0 M487.9 170.8h0 M485.6 178.3h0 M525.5 151.1h0 M479 173.6h0 M477.9 181.8h0 M495.4 160.8h0 M517.5 148.1h0 M495.8 151.1h0 M501.4 154.6h0 M500.8 159.3h0 M464.8 183.4h0 M486.4 170.7h0 M474.7 174.2h0 M482.2 175.3h0 M483.3 165.1h0 M474.4 174.6h0 M468.4 170.5h0 M469.8 175.5h0 M457.9 175.5h0 M486.9 170h0 M476.4 184.2h0 M486.6 185.7h0 M483.4 168.2h0 M491.7 154.9h0 M507.7 159h0 M494.2 160.9h0 M473 177.9h0 M517.7 140.5h0 M513.1 140h0 M487.9 157.5h0 M466.2 182.3h0 M444.9 188.5h0 M478.3 168.1h0 M482.8 168h0 M443 203.9h0 M465.6 167.8h0 M496.7 167.2h0 M457.8 183h0 M476 166h0 M456.9 176.1h0 M486.2 164.9h0 M465.9 175.1h0 M480.9 165.5h0 M479.4 166.9h0 M479.4 174.3h0 M490.3 148.7h0 M488.6 162.4h0 M466.3 178.7h0 M490.2 158.4h0 M469.9 178.9h0 M457.8 191h0 M483 173.7h0 M498.6 150.3h0 M517.1 154.9h0 M465.6 181.3h0 M475.8 183.4h0 M510.6 146.9h0 M495.6 155.8h0 M471.9 173.4h0 M477.1 172.2h0 M502.3 156.2h0 M472.9 174.8h0 M500.2 157.3h0 M494.1 169.5h0 M477 166.7h0 M478.3 171.3h0 M495.2 173.6h0 M515.8 139.3h0 M514.1 153.4h0 M508.1 168.8h0 M491.2 166.6h0 M500.3 160.8h0 M511.8 148h0 M458.8 181.5h0 M519.1 148.4h0 M474.3 188.4h0 M471.1 172.6h0 M492.9 165.7h0 M495.9 167.1h0 M477.2 165h0 M489.7 170.6h0 M505.8 160.1h0 M480.4 167.7h0 M518.1 137.5h0 M481.7 175.7h0 M489.9 160.9h0 M474 182.2h0 M512.6 150.2h0 M492.1 155.4h0 M472.3 177.2h0 M484.8 174.8h0 M464.5 176.3h0 M476.9 177.4h0 M479.3 181.4h0 M486.6 178.1h0 M485.8 176.6h0 M486.3 163.4h0 M495.2 153.9h0 M540.3 129.7h0 M473.1 174.8h0 M483.2 171h0 M480.1 170.2h0 M468.1 184.1h0 M454.3 192.3h0 M469.3 164.6h0 M469.9 180h0 M481.5 164.9h0 M492.1 162.8h0 M482.2 155.7h0 M449.2 173.4h0 M473.4 183.8h0 M488.4 164.3h0 M493.7 162.4h0 M503 157.6h0 M456.4 194.9h0 M487.5 167.2h0 M492.1 152.3h0 M467.2 180.4h0 M466.5 172.8h0 M499.7 162.8h0 M494.7 170.7h0 M489.5 171.8h0 M452.8 184.4h0 M487.7 159.6h0 M509.7 149.4h0 M499.4 155.9h0 M484.1 158.3h0 M481.5 165.2h0 M481.7 167.3h0 M486.8 166.8h0 M471.4 183.8h0 M485.3 160.3h0 M477.8 171.6h0 M467.6 175h0 M472.7 178.5h0 M526.4 143.2h0 M493.8 167.8h0 M491.2 164.9h0 M484.7 148.5h0 M486.9 155.4h0 M492.4 162.7h0 M483.9 168.3h0 M469.7 179.8h0 M495.9 150.4h0 M481.4 159.9h0 M515.9 150.1h0 M525.4 138.7h0 M536.9 121.1h0 M458.6 189.8h0 M499 150.5h0 M521.3 147.4h0 M456.6 188.6h0 M461.9 173.6h0 M492.9 171.5h0 M487.5 142.8h0 M475.5 171.6h0 M478.4 172.9h0 M495.9 157h0 M530.3 152.5h0 M501.6 166.4h0 M487.4 175.4h0 M508 152.9h0 M471.5 168h0 M495.7 154.4h0 M502.8 141.5h0 M517.7 144h0 M518.2 153.8h0 M482 180.5h0 M463.8 195.7h0 M505.3 159.6h0 M489.5 163h0 M472.7 182.4h0 M491.6 163.7h0 M489.3 169.2h0 M493.9 155.4h0 M471.8 169.2h0 M500 150.1h0 M465.1 190.5h0 M493.6 167h0 M499.5 147h0 M507 156.4h0 M501 152.9h0 M495.4 151.8h0 M469.9 176.4h0 M465.8 177.3h0 M514.3 155.2h0 M477.1 166.5h0 M509.1 145.6h0 M475.2 158h0 M484.4 169.2h0 M487.4 183.3h0 M479.8 186.4h0 M485.7 162.4h0 M473.6 181.8h0 M482.6 160.4h0 M461.2 181.8h0 M477.6 164.3h0 M493 172.8h0 M485.2 172.3h0 M478.8 169.4h0 M485.5 155.6h0 M473.9 179.1h0 M470.1 188.7h0 M504.4 157.1h0 M505.9 153.6h0 M470.2 165.7h0 M491.5 166.1h0 M507.4 162.1h0 M479.5 179.2h0 M494.1 158.3h0 M490.3 160.1h0 M480.9 166.2h0 M471 187h0 M501.8 146.7h0 M468.9 183.1h0 M489.5 162.2h0 M486.2 167.2h0 M481 163.5h0 M471.5 172.2h0 M505.5 150.9h0 M462.6 177.9h0 M472.5 173.9h0 M474.2 170.3h0 M484.8 158.1h0 M488.4 157.6h0 M510.2 142.7h0 M507.2 158.9h0 M472.8 163h0 M513.8 149.9h0 M489 156.6h0 M477.5 169.9h0 M498.1 148.7h0 M463.5 187.3h0 M461.1 181.8h0 M498.4 153.9h0 M511.4 149.5h0 M469.7 168h0 M471.6 183.5h0 M489.4 175.9h0 M509.8 144.1h0 M515.7 141.5h0 M478.4 165.2h0 M448.8 186.4h0 M505.3 144.1h0 M481.5 166.4h0 M490.1 164h0 M503.1 164h0 M477.1 166.9h0 M499.5 149.2h0 M475 177.4h0 M457.9 171h0 M483.8 172.8h0 M462 190.1h0 M462.9 190.8h0 M498.1 168.5h0 M502.8 153.8h0 M476.3 179h0 M508.1 157.3h0 M488.9 181.4h0 M512.2 145.2h0 M481.2 153.9h0 M485.9 166.6h0 M484 161.8h0 M481 162.9h0 M479.7 173.8h0 M491.4 152.2h0 M489.2 180.1h0 M483.4 154.2h0 M483.8 172.9h0 M467.5 193.8h0 M483.1 171.1h0 M509.6 149.9h0 M514.4 159.1h0 M498.7 156.2h0 M483.9 167.4h0 M466.3 175.7h0 M474.5 178.6h0 M485.2 167h0 M494 163.8h0 M490.9 159h0 M491.4 169.6h0 M414.2 111.8h0 M389 119.5h0 M391.4 125.8h0 M409.7 126.3h0 M383 128h0 M390 132.1h0 M390.9 134.5h0 M426 131.4h0 M467.1 129h0 M415.1 134.7h0 M452.6 135.4h0 M385.1 137.9h0 M396 137.4h0 M421.2 139.1h0 M436.8 137.9h0 M411.1 139.7h0 M405.3 142.4h0 M409.5 143.8h0 M436.5 144.5h0 M411.4 148.2h0 M414.7 148.2h0 M371.3 150.4h0 M385.7 152.7h0 M378.5 155.6h0 M394.9 154.7h0 M412.3 156.3h0 M416.7 155.6h0 M426.5 155.1h0 M427.4 159.2h0 M431.6 158.8h0 M432.1 160.5h0 M436.6 163.3h0 M403 162.9h0 M401.6 166.7h0 M392.1 166h0 M397.2 167.4h0 M414.7 167.4h0 M442.2 165.3h0 M459.4 150.6h0 M467.1 149.6h0 M459.6 155.6h0 M457.7 151.3h0 M401.8 171.8h0 M416.7 171.7h0 M420.2 171.3h0 M411.4 173.6h0 M401.8 176.3h0 M407.6 177.8h0 M422.4 175.3h0 M427.2 177.2h0 M418.2 177.8h0 M390 181.4h0 M396.5 180.2h0 M405.8 182.3h0 M409.3 180.6h0 M413.7 183.3h0 M417.4 184.7h0 M419.8 180.6h0 M423 181.8h0 M433.5 171h0 M434.4 173h0 M437 174.4h0 M440.5 172.2h0 M443.5 176.1h0 M445.9 177h0 M434.2 185.7h0 M384.3 189.3h0 M410.9 190.2h0 M408.6 192.7h0 M427 197.9h0 M441 189.3h0 M436.6 195.3h0 M439.1 196.5h0 M441.7 199.2h0 M435.9 209h0 M572.2 11.4h0 M603.8 15.9h0 M563.3 55.4h0 M560.8 68.3h0 M543.4 75.8h0 M570 73.4h0 M567.9 75.5h0 M577.4 77h0 M522.5 79.4h0 M511.8 83.6h0 M564.8 81.2h0 M551.9 85.7h0 M557.5 86.6h0 M566.4 86.6h0 M501.1 89.6h0 M517.6 89.6h0 M522.8 87.8h0 M534.8 91.4h0 M544 88.4h0 M544 92.3h0 M554.4 92.6h0 M613.6 88.4h0 M626.4 85.7h0 M668.7 81.8h0 M488.8 98.9h0 M512.7 97.7h0 M526.2 96.5h0 M529 93.2h0 M552.6 95.3h0 M557.5 95.9h0 M564.5 98.3h0 M572.8 97.4h0 M579.8 96.8h0 M498.9 105.5h0 M524 102.5h0 M532.6 103.7h0 M544.3 102.5h0 M560.8 104.6h0 M489.4 108.8h0 M512.7 107.3h0 M477.1 115.9h0 M623.4 114.4h0 M580.8 114.1h0 M474.4 201.9h0 M511.8 195.1h0 M512.5 187.8h0 M503.8 183.4h0 M535.6 182.3h0 M525.8 178.6h0 M564.3 170.2h0 M544.5 165.2h0 M538.6 165.8h0 M530.9 165.2h0 M558.9 160.8h0 M569.5 153.1h0 M588.4 142.3h0 M579.5 131.6h0 M586.5 126.3h0 M591.2 126.3h0 M593.3 124.3h0 M577.4 119.5h0 M580.4 114h0 M579.5 96.7h0 M572.7 97.8h0 M437.2 137.5h0 M436.5 144.4h0 M452.9 135.5h0 M467 129.1h0 M432 159.4h0 M436.1 163.4h0 M442.3 165.4h0 M433.1 171.4h0 M439.2 172.4h0 M443.3 176.4h0 M445.3 178.4h0 M434.1 185.4h0 M438.2 194.4h0 M441.2 198.4h0 M436.1 209h0 M535.7 182.4h0 M526.1 178.4h0 M564.3 170h0 M559.2 160.4h0 M544 165.4h0 M538.3 165.8h0 M530.1 165.4h0 M525 164.8h0" fill="none" stroke="#1f77b4" stroke-width="4.30" stroke-linecap="round"/></g>
<path d="M371.1 242.9L669.4 12.1" stroke="#ff7f0e" stroke-width="0.80" fill="none"/>
<path d="M356.4 0.2H684.7" stroke="#999" stroke-width="1.00"/>
<path d="M684.4 -0.1V255.7" stroke="#777" stroke-width="1.00"/>
<path d="M356.4 255.4H684.7" stroke="#4a4a4a" stroke-width="0.90"/>
<path d="M356.7 -0.1V255.7" stroke="#888" stroke-width="0.90"/>
<path d="M356.7 222.6h-1.8M356.7 171.0h-1.8M356.7 119.4h-1.8M356.7 67.8h-1.8M356.7 16.2h-1.8M397.3 255.4v1.8M464.0 255.4v1.8M530.7 255.4v1.8M597.4 255.4v1.8M664.1 255.4v1.8" stroke="#333" stroke-width="0.5" fill="none"/>
<g font-family="'DejaVu Sans','Liberation Sans',sans-serif" font-size="5.30" fill="#111"><text transform="translate(352.3,225.1) scale(1,1.300)" text-anchor="end">1</text><text transform="translate(352.3,173.5) scale(1,1.300)" text-anchor="end">2</text><text transform="translate(352.3,121.9) scale(1,1.300)" text-anchor="end">3</text><text transform="translate(352.3,70.3) scale(1,1.300)" text-anchor="end">4</text><text transform="translate(352.3,18.7) scale(1,1.300)" text-anchor="end">5</text><text transform="translate(397.3,264.2) scale(1,1.300)" text-anchor="middle">1</text><text transform="translate(464.0,264.2) scale(1,1.300)" text-anchor="middle">2</text><text transform="translate(530.7,264.2) scale(1,1.300)" text-anchor="middle">3</text><text transform="translate(597.4,264.2) scale(1,1.300)" text-anchor="middle">4</text><text transform="translate(664.1,264.2) scale(1,1.300)" text-anchor="middle">5</text></g></g>
<g id="p2"><g transform="scale(1,1.0000)"><path d="M195.6 441.6h0 M190.2 462.2h0 M203.2 471.3h0 M169.7 477.6h0 M187.2 458.6h0 M173.6 487.5h0 M222.8 454.3h0 M218.8 415.2h0 M212.3 462.6h0 M157 481h0 M195.3 478.7h0 M228.2 414.9h0 M189.6 451.2h0 M192.9 482h0 M231.2 413.3h0 M216.5 425.7h0 M226.2 441.5h0 M231 408.8h0 M182.4 471h0 M186.2 444.7h0 M202.3 433.3h0 M212.8 433.4h0 M157.2 469.2h0 M203.3 433.2h0 M196.9 441h0 M216.6 462.2h0 M217.6 423.8h0 M167.6 461.3h0 M219.4 445.7h0 M208.1 431.7h0 M168.2 452.9h0 M157.7 491h0 M169.5 481.1h0 M182.7 456.2h0 M189.5 447.8h0 M149.8 467.7h0 M176.3 467.2h0 M191.7 435.3h0 M161.7 457.8h0 M183.4 448.7h0 M233.9 406.8h0 M165.3 456.3h0 M223.2 438.3h0 M175.2 470.4h0 M192.3 466.9h0 M231.3 434.9h0 M207.2 429.8h0 M169.2 452h0 M233.9 427.1h0 M202.2 442.3h0 M156.8 494.3h0 M172.4 473.3h0 M164.8 488.4h0 M201.1 429.7h0 M153 470.6h0 M154.6 470.1h0 M212.5 424.2h0 M206.9 471h0 M193 478.1h0 M185.3 453.8h0 M199.1 431.1h0 M207.2 435.1h0 M193.6 441.1h0 M224 456.1h0 M195.3 464.2h0 M179.8 476.7h0 M231.9 415.6h0 M157.5 468.2h0 M225 436.2h0 M199.3 467.4h0 M230.6 430h0 M154.3 486h0 M203.8 453.6h0 M230.3 448h0 M229.9 442.1h0 M203.5 461.5h0 M182.4 473.3h0 M173.3 458.3h0 M173.3 467.8h0 M171.6 460.3h0 M233 454.7h0 M227.6 451.7h0 M186.4 471h0 M201.6 465.2h0 M172.7 483h0 M211.7 422.7h0 M208.6 443.6h0 M153.8 460.9h0 M195.5 467.1h0 M184 481.4h0 M221.6 462.6h0 M193.2 434.5h0 M172.2 465.5h0 M232.2 432.9h0 M201.4 452.8h0 M193.1 450.7h0 M187.8 469h0 M227.1 414.7h0 M171.2 480.1h0 M228.9 417.1h0 M178.2 453.3h0 M192.2 451.2h0 M197.1 438.8h0 M219.2 457.6h0 M203.3 460.9h0 M199.9 449.5h0 M225.6 420.4h0 M229.3 422h0 M184.8 463.5h0 M216.2 441.7h0 M201.8 433.3h0 M201.8 434.1h0 M196.9 451.1h0 M170.8 468.9h0 M151.9 482.4h0 M149.3 477h0 M225.6 430.5h0 M222.4 418.5h0 M229.5 436h0 M206.6 460.8h0 M208.5 422.2h0 M232.6 431.9h0 M215.1 454.3h0 M213.8 469.8h0 M189.8 473h0 M205.2 459.8h0 M220.3 436.2h0 M163.1 469.9h0 M195.9 458.3h0 M172.9 455h0 M199.8 427.6h0 M232.4 411.5h0 M235.4 438.5h0 M208.3 434.6h0 M156.3 462.6h0 M233.7 412.5h0 M205.9 429.7h0 M181.4 473.7h0 M190.6 436.2h0 M213.7 422.5h0 M217.2 442.4h0 M193.4 466.8h0 M220.5 423.2h0 M196.3 451.8h0 M225.4 409.8h0 M150.8 472.4h0 M230.3 443.6h0 M188.4 471.5h0 M228.1 447.2h0 M163.9 453.7h0 M225.9 446.8h0 M231.9 418h0 M193 461.5h0 M155.2 469.5h0 M182.1 450.7h0 M192.2 458.4h0 M185.2 467.3h0 M192.5 466.6h0 M167.4 453.7h0 M161 458.5h0 M186.1 437.7h0 M216.2 460.4h0 M194.9 427.6h0 M220 458.9h0 M180.5 455.3h0 M192.3 429.6h0 M204.4 468.3h0 M197.6 463.3h0 M216.2 421.7h0 M224.4 433.7h0 M189.9 478.3h0 M157.5 487h0 M159.8 488.2h0 M159.3 469.3h0 M171.9 448h0 M177.9 473.2h0 M156.9 464.7h0 M182.4 458.5h0 M196 451.4h0 M207.5 438.9h0 M209.3 428.2h0 M222.5 435.5h0 M172 487.1h0 M228.6 428.7h0 M185.1 462.2h0 M199.8 435.9h0 M196.1 431.9h0 M212.3 418.2h0 M224.2 432.1h0 M209.6 443h0 M219.9 440.9h0 M196 479.6h0 M198.8 454.4h0 M207.8 434h0 M217.5 431.5h0 M165.4 458.6h0 M223.1 437.3h0 M157.7 494.1h0 M189.4 443.3h0 M207.3 464.5h0 M202.5 470.9h0 M159 482h0 M154.6 486.4h0 M232.9 447.4h0 M186.4 483.9h0 M190.1 453.9h0 M214.6 461.6h0 M218 457.1h0 M232.3 421.8h0 M185.5 440.4h0 M199.5 432.5h0 M227.5 436h0 M214.5 451.8h0 M196.4 472.5h0 M193.1 431.5h0 M194.4 440.9h0 M193.4 440.9h0 M201.8 425.5h0 M194.2 435.3h0 M200.4 469.4h0 M235.1 457.9h0 M227.1 435h0 M179.6 445.4h0 M196.3 460.3h0 M203.9 424.9h0 M173.4 449.4h0 M215.3 459.7h0 M162.8 473.8h0 M218.4 467.4h0 M174 486.1h0 M184.9 466.7h0 M194.1 464.9h0 M197.6 437.9h0 M212.5 451.4h0 M212.7 424.3h0 M179.9 478h0 M177.7 475.3h0 M194.2 436.9h0 M218.5 412.4h0 M205.8 469.9h0 M217.9 460.3h0 M216.3 457.7h0 M158.9 484.9h0 M195.1 450.9h0 M201.3 440.8h0 M210.1 462.1h0 M217.4 444.9h0 M200.6 425.8h0 M192.2 434.1h0 M230.8 437.1h0 M194.6 456.9h0 M235.1 407h0 M155.6 471.6h0 M204.5 444.2h0 M174.5 490.6h0 M169.5 458.1h0 M218.6 421.9h0 M207.3 439.2h0 M197.5 476.4h0 M195.4 429.9h0 M211.8 465h0 M233.1 418.5h0 M186.8 437.9h0 M178.6 469.1h0 M204.3 464.5h0 M192.1 432.6h0 M196.3 480.4h0 M215.9 441.3h0 M214.1 445h0 M164.7 485.5h0 M203.2 449.8h0 M215.4 422.9h0 M193.7 466.8h0 M224.5 453.1h0 M220.3 419h0 M164.7 456.1h0 M184.6 467.2h0 M179 457.3h0 M184 480.7h0 M149.9 480.7h0 M197.1 444h0 M220.7 439.4h0 M191.4 478.2h0 M215.9 458h0 M171.3 476.5h0 M153.2 489.5h0 M221.6 460h0 M220.9 428.1h0 M219 439.1h0 M148.7 475.5h0 M234 425.5h0 M194.3 434h0 M178.6 458.5h0 M160.5 487.2h0 M181.7 440.5h0 M165.4 487.3h0 M161.5 467.5h0 M209 473.4h0 M229.3 441.6h0 M174.6 446.6h0 M222 459.4h0 M180 475.6h0 M225.2 440.6h0 M210.2 470.3h0 M214.1 442.4h0 M183.3 476h0 M177.3 474.3h0 M162.3 479.3h0 M165.5 469.3h0 M234.3 445.9h0 M200.3 466.9h0 M174.9 482.9h0 M212.7 431.5h0 M220.5 426.2h0 M162.6 457.4h0 M191.8 431.7h0 M218.4 453h0 M153.9 479.1h0 M204.1 440.3h0 M228.8 412.4h0 M210.3 469.7h0 M197 428.3h0 M188.2 459.9h0 M169.1 455.3h0 M204 456.7h0 M202.5 432.9h0 M184.8 438.8h0 M184.5 456.5h0 M166.3 478.4h0 M194.5 437.3h0 M169.6 457.5h0 M162.8 469.4h0 M226.8 426.5h0 M155.4 491.9h0 M165.2 463.8h0 M219.2 454.6h0 M174.1 474.8h0 M211.8 420.1h0 M211.4 431.5h0 M193 466.4h0 M205.3 427.3h0 M212.9 427.7h0 M193.9 467.2h0 M168.6 463.8h0 M196.8 447.3h0 M194 438.4h0 M178.3 477.3h0 M162.8 478.2h0 M206.8 423.2h0 M169.1 453.2h0 M170.3 458.3h0 M229.8 427.9h0 M195.6 440.2h0 M194.5 475.5h0 M204 429.4h0 M217 446.1h0 M186 469.6h0 M191.6 430h0 M159.7 491.1h0 M212.9 462.8h0 M223.6 459.8h0 M231 410.3h0 M236.4 449h0 M216.3 433.9h0 M222.9 457h0 M228.3 428.1h0 M164.3 456.8h0 M151.2 466h0 M216 460h0 M162.4 455.2h0 M177 489.3h0 M204.6 470h0 M164.3 464.5h0 M225.8 456.9h0 M231.4 457.2h0 M183.1 460.4h0 M190.5 431.5h0 M180.8 450.8h0 M227.4 436h0 M220.6 443.3h0 M163.1 463.6h0 M170.7 488.2h0 M200.9 470.9h0 M194.7 450h0 M209.1 468.2h0 M156 478.3h0 M204.2 449.2h0 M215 461.9h0 M220.3 450.5h0 M195.4 462.9h0 M163.3 482.6h0 M176.6 464h0 M172.4 474.4h0 M151.7 472.8h0 M187.9 442.6h0 M161.1 477.5h0 M188.8 446.6h0 M196 427.2h0 M187.9 484.3h0 M208.2 468.4h0 M260.6 441h0 M239.3 433.7h0 M257.2 423.4h0 M247.2 410.8h0 M238.6 440.6h0 M246.8 425.1h0 M253.2 414.2h0 M239.7 434.9h0 M242.9 428.5h0 M250.3 447.1h0 M240 404.2h0 M257.7 428.8h0 M236.3 418h0 M263.1 431.4h0 M249.1 446.6h0 M244.4 435.8h0 M242.3 443h0 M261.1 445.9h0 M243.6 406.5h0 M247.2 431.1h0 M256.9 440h0 M256 441.4h0 M250.2 448.8h0 M242.8 429.6h0 M244.1 406.6h0 M254.8 435.1h0 M245.1 450.6h0 M257.9 424.2h0 M242.2 454.9h0 M235.9 448.4h0 M260.3 426.5h0 M260.6 426h0 M243.3 450.4h0 M242.6 410.3h0 M237.8 446.2h0 M246.4 426.3h0 M256.3 417.5h0 M237.1 454.6h0 M240.5 407.5h0 M236.8 437.1h0 M245.3 425.7h0 M239.3 445.2h0 M238.1 431.9h0 M239.5 437.9h0 M260.9 428.2h0 M250.6 416.7h0 M258 446.2h0 M256.1 421.9h0 M260.1 424.9h0 M245.5 441.9h0 M248.6 447.6h0 M245.7 443.7h0 M240.2 454.8h0 M254 436.7h0 M238.1 411h0 M145.6 492.8h0 M149.1 482.8h0 M145.5 491.3h0 M136.3 482.4h0 M145.8 492.4h0 M145.7 492.5h0 M145.4 478.3h0 M138.4 479.2h0 M150.6 478.4h0 M142.3 473.1h0 M134.7 493.9h0 M148 492.2h0 M149.9 477.8h0 M136.9 484.4h0 M140.2 489.2h0 M141.4 473.6h0 M137.7 474.2h0 M148 478h0 M136 492.2h0 M149.1 473.8h0 M150.4 494h0 M141.1 471.2h0 M162.8 449.6h0 M227.3 399h0 M194.6 415h0 M199.9 415.7h0 M228.2 402.3h0 M224.4 401.3h0 M194.3 421.5h0 M210.9 409.6h0 M193.9 418.9h0 M161.6 448.8h0 M214.9 410.5h0 M175.5 432.6h0 M196.1 425.4h0 M159.6 455.4h0 M215 405.9h0 M216.8 402.5h0 M227.7 397.2h0 M171.5 446h0 M181.9 434h0 M207.7 407.8h0 M199.2 419.8h0 M159.4 449.5h0 M173.9 440.8h0 M187.8 416.7h0 M150.9 459.7h0 M199.2 415.9h0 M159.4 448.4h0 M213.4 402.8h0 M175.2 438.3h0 M206.4 414.3h0 M205.3 415.4h0 M209.7 401.3h0 M200.7 412.5h0 M165.2 439.1h0 M202.8 415.3h0 M207.1 412.4h0 M196.1 424.2h0 M182.6 432.1h0 M176 435.8h0 M178.7 441.9h0 M218.7 401.9h0 M189.4 425.3h0 M192.8 429.1h0 M208 408.2h0 M154.6 459.7h0 M235.5 439.5h0 M177.6 470.7h0 M179.3 483.5h0 M189.8 470.6h0 M182.5 467.6h0 M234.6 429.1h0 M196.1 451.1h0 M197.4 452.6h0 M165.3 479h0 M202.5 452.8h0 M163.4 467.5h0 M199.5 454.9h0 M180.7 460.6h0 M179.9 459.5h0 M187 446.6h0 M221.9 429.5h0 M182.9 463.7h0 M158.4 476.5h0 M195 467.1h0 M180.2 463.1h0 M214.4 435.1h0 M176.5 460.5h0 M200.9 454.6h0 M192.4 469.2h0 M223.2 445.3h0 M145.6 485.7h0 M221 443.5h0 M195.8 450.9h0 M209.7 455.4h0 M217.2 440.7h0 M194.4 457.8h0 M201.5 452h0 M223.1 443h0 M196.8 456.6h0 M220.4 437.6h0 M232 443.9h0 M184.6 472.8h0 M169.9 477.4h0 M203.7 454.9h0 M217 445.1h0 M188.7 465.6h0 M213.5 453h0 M215.3 433.8h0 M198.5 450.8h0 M218 446.9h0 M221.5 437.1h0 M180.4 462.2h0 M189.8 463.8h0 M183.2 450h0 M185.1 460.9h0 M240.1 422h0 M215.3 448.7h0 M170.5 473h0 M177.1 484.9h0 M210.9 454h0 M171.6 474.5h0 M213.1 437.4h0 M198.8 459h0 M201.4 451.7h0 M174.9 455.3h0 M188.3 457h0 M159.8 479.6h0 M183.9 462h0 M238.9 440h0 M206.7 436.7h0 M220.6 447.3h0 M196 456.6h0 M176.5 464.8h0 M232.4 446.2h0 M209.4 443.8h0 M206.9 448.2h0 M185.5 481.7h0 M212 448.5h0 M235.3 441.5h0 M209.1 464.6h0 M181 462.7h0 M160.5 478.9h0 M216.2 434.4h0 M206.8 435.8h0 M200.1 444.4h0 M211.7 453.3h0 M182.2 443.7h0 M177.7 470.9h0 M208 449.9h0 M199.9 470.5h0 M222.9 427.8h0 M222.1 438.5h0 M203.9 455.5h0 M173.8 456h0 M182.4 469.5h0 M221.2 450.1h0 M241.1 432.3h0 M169.6 470.6h0 M173.6 466h0 M210.2 452.7h0 M197.5 451.4h0 M183.8 465.8h0 M198 461.6h0 M210.2 435.9h0 M184.2 464.7h0 M201 449.4h0 M218.6 448.4h0 M221 430.3h0 M204.5 454.2h0 M226.8 430.2h0 M207 445.8h0 M198.5 451.8h0 M206.8 453.4h0 M190.5 466.8h0 M239 436.3h0 M212.1 457.7h0 M211.7 459.1h0 M214.5 442.9h0 M231.1 433.7h0 M203.4 449.6h0 M210.7 441.2h0 M254.2 414.4h0 M207.6 448.2h0 M192.3 462.4h0 M202.9 467.7h0 M207.3 454.3h0 M168.5 474.7h0 M207.9 448.8h0 M213.7 451.4h0 M196.3 457.9h0 M192.5 463.1h0 M189.5 467h0 M192.7 463.3h0 M205.4 456.8h0 M189.9 465.4h0 M144.8 497.3h0 M161.1 479.6h0 M209.2 467.4h0 M194.3 467.9h0 M146.6 477.3h0 M173 466.5h0 M210.6 434.9h0 M180.8 465h0 M204.8 457h0 M157.1 487.9h0 M212.3 428.2h0 M198.2 468.4h0 M197.5 449.8h0 M194.8 462.9h0 M199.5 452h0 M225.4 439.2h0 M204.3 452.9h0 M224.1 425h0 M232.5 444.7h0 M171.3 472.2h0 M200.3 466.9h0 M236.7 421.8h0 M173.8 476h0 M200.5 459.9h0 M226.5 435.1h0 M204.8 446.9h0 M228.5 437.9h0 M203.1 458h0 M200.9 444.1h0 M169.5 473h0 M184.2 465h0 M192.4 466.3h0 M205.9 462.9h0 M201.9 456.2h0 M200.6 457.5h0 M220.6 434.8h0 M159.9 487.2h0 M217.1 440.7h0 M206.7 458.5h0 M195.3 445.8h0 M195.8 460.1h0 M186.6 456.7h0 M154.6 478.8h0 M204.7 457.6h0 M149.1 495.1h0 M211.7 457.1h0 M227.6 457.5h0 M190.7 463.1h0 M171.1 470.3h0 M166.6 479.7h0 M204.2 449h0 M165.6 464.1h0 M210 442.2h0 M163 483.4h0 M172.7 459.3h0 M175 465.2h0 M196.8 448.2h0 M181.2 466.6h0 M195.7 458.7h0 M157.4 487.1h0 M219.9 440h0 M144.1 481.5h0 M179.3 474.4h0 M211.3 442.3h0 M183.2 468h0 M197.3 460.2h0 M214 453.2h0 M197.6 461.5h0 M204 452.9h0 M223.2 432.5h0 M213.3 444.8h0 M179.6 461.8h0 M202.8 468.2h0 M179.1 470h0 M180.1 469.1h0 M231.4 434.6h0 M219.1 445.6h0 M198.2 457h0 M184.1 460.3h0 M185 456.3h0 M190.4 455.4h0 M140.2 494.1h0 M178.4 467.4h0 M191.9 458.3h0 M214.1 435.4h0 M192.9 447.7h0 M197.1 450.1h0 M210.2 454.9h0 M188.6 460.2h0 M188.6 468.9h0 M217.5 444.7h0 M180.2 463.7h0 M200.4 448.9h0 M185.2 468h0 M153.4 489.3h0 M214.8 442.8h0 M217.2 438.7h0 M189.1 450.5h0 M186.9 456.4h0 M166.5 478.5h0 M171.2 469.8h0 M205.2 460.8h0 M221 447h0 M177.2 456.3h0 M233.7 445.8h0 M177.7 460.6h0 M192.5 462.8h0 M210.9 464.9h0 M191.6 456.5h0 M160.2 479h0 M217.8 442.5h0 M187.6 463.3h0 M165.4 475.1h0 M186.8 472.2h0 M172.2 482.4h0 M216.4 431h0 M161.7 479.2h0 M173.8 485.5h0 M223 446h0 M179.8 467.3h0 M252.5 413.7h0 M142.3 497.1h0 M185 465.7h0 M168.3 487.1h0 M196.6 451.5h0 M200.6 451.8h0 M247 417.2h0 M214.9 446.2h0 M159 488.4h0 M237.7 432.1h0 M195.8 456.3h0 M188 455.9h0 M216.4 445h0 M182 471.9h0 M193.5 458.8h0 M204.6 447.5h0 M185.1 479.5h0 M195.6 457.4h0 M178.9 465h0 M204 447.7h0 M164.4 488.1h0 M207.7 438.3h0 M178.4 461.1h0 M233 434.1h0 M193.3 467.8h0 M212.8 444.3h0 M213 448.6h0 M170.1 467.7h0 M195.4 452.6h0 M185.1 470.3h0 M171.5 472.4h0 M191.7 458.9h0 M210.7 448h0 M214 459.4h0 M201.9 450.6h0 M214.7 447.7h0 M188.8 458h0 M151.5 483.5h0 M175.9 462.7h0 M196.9 452.1h0 M180.1 474.1h0 M177.5 472.3h0 M171.3 463.4h0 M151.7 485h0 M224.9 434.9h0 M169.4 467.8h0 M182.3 467.8h0 M217.5 440.3h0 M236.8 423.5h0 M173.8 477.1h0 M207.4 446.7h0 M172.7 467.5h0 M225.3 435.6h0 M179.2 475.3h0 M193.4 452h0 M229.5 442.5h0 M232 436h0 M195.4 446.7h0 M181.7 458.1h0 M201.9 470.1h0 M178.3 468.5h0 M210.7 456.8h0 M203.7 447.8h0 M164.4 486.1h0 M172.6 461.6h0 M200.8 456.6h0 M153.5 469.8h0 M215.4 440.1h0 M190.6 473.1h0 M207.6 443.5h0 M198 457h0 M198 456.4h0 M154.6 482.6h0 M217 435.3h0 M197.8 461.1h0 M198 465.5h0 M185.4 448.5h0 M168.5 468.4h0 M29.2 323.9h0 M85.7 332.8h0 M101.4 364.6h0 M59.1 372h0 M82.7 389.8h0 M151.6 397.7h0 M81.3 403.3h0 M83.4 417.8h0 M87.1 420.6h0 M76.4 425.8h0 M85.7 426.5h0 M130.3 424.6h0 M71.9 432.8h0 M93.4 433.2h0 M100.4 432.8h0 M103.7 432.3h0 M119.1 432.8h0 M138.3 431.4h0 M57.4 441.2h0 M63.8 439.1h0 M79.4 438.4h0 M87.8 439.5h0 M90.6 439.5h0 M100 438.4h0 M102.8 437.7h0 M128.5 439.5h0 M156.5 440h0 M64.2 445.4h0 M73.1 445.6h0 M89.9 443.5h0 M110 442.3h0 M134.8 443.7h0 M168.6 441.2h0 M153.5 445.8h0 M159.8 447.5h0 M168.2 447h0 M64.9 452.9h0 M66.8 452.2h0 M77.1 451.2h0 M93.4 453.1h0 M99.7 452.6h0 M104.2 451.7h0 M108.1 454.3h0 M118.2 453.6h0 M119.8 450.8h0 M124 449.4h0 M127.1 451.7h0 M133.8 453.6h0 M139.2 452.9h0 M140.1 452.2h0 M144.1 452.9h0 M147.6 452.9h0 M151.8 448.7h0 M73.1 457.8h0 M72.4 460.8h0 M73.8 464.3h0 M95.8 459.6h0 M101.8 457.5h0 M45.3 463.8h0 M84.1 464.3h0 M95.5 465.5h0 M79.9 467.8h0 M104.2 469h0 M107.2 467.1h0 M127.8 465.5h0 M137.1 466.9h0 M53.2 472h0 M117.5 470.4h0 M85.7 473.4h0 M99.5 474.1h0 M130.8 473.4h0 M143.2 471.8h0 M78.7 477.8h0 M83.6 478.8h0 M112.8 478.8h0 M76.6 481.8h0 M125.2 480.7h0 M125.2 483.2h0 M68.9 495.6h0 M96.2 493.7h0 M103 490h0 M98.6 500h0 M138.5 497.7h0 M151.6 498.4h0 M132.4 491.4h0 M140.1 491.4h0 M158.8 491.9h0 M155.3 461.5h0 M154.2 458h0 M161.2 456.8h0 M319.9 333.4h0 M317 340.1h0 M239.4 337.5h0 M245.9 357.9h0 M259.2 361h0 M284.6 361.5h0 M215.9 367.2h0 M247.8 366.3h0 M252.3 368.6h0 M276.1 367.2h0 M280.6 371.7h0 M289.4 370.5h0 M301.3 365.1h0 M271.1 372.9h0 M245.9 374.6h0 M237.1 377.4h0 M300.1 375.8h0 M256.6 381h0 M251.6 382.2h0 M247.1 383.4h0 M278 382.7h0 M278 385.3h0 M313 382.7h0 M322 386h0 M186.6 388.9h0 M243.5 389.6h0 M256.1 389.8h0 M260.9 389.1h0 M266.8 388.1h0 M299.2 387.2h0 M304.9 387.4h0 M295.4 392.4h0 M292.3 394.8h0 M309.9 394.6h0 M316.8 397.2h0 M318 404.1h0 M179.2 396.5h0 M190.9 395.8h0 M219.2 395h0 M224 397.2h0 M226.8 399.3h0 M228.5 401.7h0 M245.1 394.6h0 M264.2 395.8h0 M265.6 398.1h0 M268.5 401.7h0 M269.9 403.6h0 M273.5 404.8h0 M275.1 397.7h0 M185.2 399.3h0 M190.2 402.4h0 M206.6 401.7h0 M237.3 399.3h0 M240.6 401.2h0 M252.5 399.3h0 M257.3 401.7h0 M262.5 402.9h0 M218.7 405.3h0 M220.9 409.6h0 M243 405.3h0 M249.7 407.2h0 M255.9 407.7h0 M281.8 408.4h0 M278 411.9h0 M272.8 412.7h0 M298.9 416.7h0 M300.8 416.2h0 M278 419.1h0 M283.9 419.1h0 M287.5 419.3h0 M301.8 427.4h0 M270.8 429.8h0 M266.1 425.7h0 M291.8 434.8h0 M307.7 432.6h0 M313.7 439.5h0 M263.7 456h0 M264.7 456.7h0 M285.8 462.1h0 M249.9 474h0 M192.6 485.5h0 M181.9 489.8h0 M176.4 488.1h0" fill="none" stroke="#1f77b4" stroke-width="4.30" stroke-linecap="round"/></g>
<path d="M28.3 552.8L322.1 347.5" stroke="#ff7f0e" stroke-width="0.80" fill="none"/>
<path d="M13.7 312.5H336.7" stroke="#909090" stroke-width="0.90"/>
<path d="M336.4 312.2V563.8" stroke="#8a8a8a" stroke-width="0.90"/>
<path d="M13.7 563.5H336.7" stroke="#909090" stroke-width="0.90"/>
<path d="M14.0 312.2V563.8" stroke="#777" stroke-width="1.00"/>
<path d="M14.0 553.4h-1.8M14.0 522.2h-1.8M14.0 491.0h-1.8M14.0 459.8h-1.8M14.0 428.6h-1.8M14.0 397.4h-1.8M14.0 366.2h-1.8M14.0 335.0h-1.8M27.4 563.5v1.8M72.0 563.5v1.8M116.7 563.5v1.8M161.3 563.5v1.8M206.0 563.5v1.8M250.7 563.5v1.8M295.3 563.5v1.8" stroke="#333" stroke-width="0.5" fill="none"/>
<g font-family="'DejaVu Sans','Liberation Sans',sans-serif" font-size="5.40" fill="#111"><text transform="translate(9.5,555.8) scale(1,1.200)" text-anchor="end">0.5</text><text transform="translate(9.5,524.6) scale(1,1.200)" text-anchor="end">1.0</text><text transform="translate(9.5,493.4) scale(1,1.200)" text-anchor="end">1.5</text><text transform="translate(9.5,462.2) scale(1,1.200)" text-anchor="end">2.0</text><text transform="translate(9.5,431.0) scale(1,1.200)" text-anchor="end">2.5</text><text transform="translate(9.5,399.8) scale(1,1.200)" text-anchor="end">3.0</text><text transform="translate(9.5,368.6) scale(1,1.200)" text-anchor="end">3.5</text><text transform="translate(9.5,337.4) scale(1,1.200)" text-anchor="end">4.0</text><text transform="translate(27.4,572.6) scale(1,1.200)" text-anchor="middle">0.5</text><text transform="translate(72.0,572.6) scale(1,1.200)" text-anchor="middle">1.0</text><text transform="translate(116.7,572.6) scale(1,1.200)" text-anchor="middle">1.5</text><text transform="translate(161.3,572.6) scale(1,1.200)" text-anchor="middle">2.0</text><text transform="translate(206.0,572.6) scale(1,1.200)" text-anchor="middle">2.5</text><text transform="translate(250.7,572.6) scale(1,1.200)" text-anchor="middle">3.0</text><text transform="translate(295.3,572.6) scale(1,1.200)" text-anchor="middle">3.5</text></g></g>
<g id="p3"><g transform="scale(1,0.9767)"><path d="M456.7 489.8h0 M492.4 500.8h0 M519.8 458.5h0 M419.5 541.3h0 M411.1 529.3h0 M452.5 534.4h0 M498.2 471.6h0 M517.6 477h0 M513 478.3h0 M436.9 518.6h0 M461 510.1h0 M429 524.7h0 M442.3 513.5h0 M491 504.5h0 M478 479.1h0 M459.2 531.5h0 M452.1 525.1h0 M467.4 490.5h0 M444.6 539.8h0 M528.2 487.1h0 M509.1 489.7h0 M387.3 547.7h0 M456.2 502.6h0 M423.4 535.8h0 M446.9 516.7h0 M492.1 485.9h0 M501.1 506h0 M517.8 458.8h0 M454.3 523.9h0 M393.7 541.3h0 M518.2 489.2h0 M507.3 470h0 M490.7 495.9h0 M508.5 487.9h0 M524.9 500.6h0 M444.3 532.5h0 M450 524.3h0 M418.4 545.5h0 M513 491.2h0 M481.2 487.9h0 M528.2 482.9h0 M424.4 540h0 M453.7 536.4h0 M446.4 523.9h0 M470.3 511.5h0 M520.7 501.3h0 M470.2 510.1h0 M476.8 505.6h0 M492.4 502.4h0 M500.6 483.1h0 M517.9 485.3h0 M456.4 505.5h0 M414.1 527h0 M503.4 493.4h0 M522.5 480.3h0 M411 540.4h0 M397.1 542h0 M459.3 499.8h0 M505.2 495.2h0 M460.1 506.8h0 M513.9 478.4h0 M509.6 503.9h0 M503.5 510.2h0 M443.3 521.3h0 M431.3 521.8h0 M454.9 492.5h0 M465.2 504.5h0 M447.5 498.4h0 M464.2 517.4h0 M436.5 534.4h0 M530.6 500.4h0 M529.2 486.7h0 M478.4 517.9h0 M394.7 541.3h0 M513.2 467.9h0 M434 530.1h0 M402.8 541.1h0 M521.6 507.9h0 M433.9 535.6h0 M477 488.7h0 M460.6 520.4h0 M528.5 498.6h0 M401.9 547.9h0 M496.8 486.5h0 M452.3 505.2h0 M476.9 499.2h0 M489.6 495.5h0 M454.9 528.4h0 M440.6 535.2h0 M492 484.1h0 M499.9 490.5h0 M504.1 514.9h0 M395.8 551h0 M470.5 493.5h0 M424.3 540.6h0 M490.5 515.4h0 M488 522.1h0 M475.6 508.3h0 M477.8 482h0 M479.3 511.9h0 M462.3 521.6h0 M462.9 492.3h0 M456.1 508.4h0 M505.5 485.9h0 M520.7 468.9h0 M501.7 476.8h0 M435.8 530.5h0 M483.7 519.5h0 M416.3 534.6h0 M510 504.3h0 M491.3 515.1h0 M467.9 483.4h0 M409.7 544.4h0 M495.9 491.8h0 M493.4 490.4h0 M529.4 501h0 M435.1 534.6h0 M483.2 517.3h0 M469.8 518.5h0 M506 507h0 M449.3 525.6h0 M456.8 527.6h0 M439.7 545.7h0 M522.1 510.4h0 M457.4 512.5h0 M436 515.1h0 M503.1 516h0 M464.9 523.8h0 M472.9 505h0 M458.9 486.8h0 M436.7 524.8h0 M522.7 499.4h0 M470.5 517.9h0 M468.4 516.9h0 M514.5 498.1h0 M428.3 532.1h0 M445.8 520.8h0 M468.1 528.3h0 M463 501.6h0 M498.9 491.2h0 M457.5 536.7h0 M517.3 489.7h0 M463.1 523.9h0 M393.1 546.7h0 M470.9 530.2h0 M487.6 503.9h0 M468.7 486.6h0 M483.6 492.9h0 M458.6 513.3h0 M428 537.2h0 M467.4 516.9h0 M456.5 529.4h0 M524.8 489.2h0 M533.7 490.6h0 M398.9 544.3h0 M517.3 473.4h0 M425.6 528.6h0 M436.9 522.9h0 M412.8 542.9h0 M485.8 504.2h0 M528.3 478.8h0 M446.7 527.8h0 M513.3 491.7h0 M512.9 487.7h0 M422.9 546.3h0 M439.3 518.3h0 M432.8 515.3h0 M467 506.6h0 M505.3 508.1h0 M497.5 488.9h0 M483.7 517.9h0 M403.7 548.5h0 M486.9 507.7h0 M516.5 462.2h0 M506.1 511.3h0 M384.1 549.1h0 M530.8 484.9h0 M490 510.2h0 M476.8 507.8h0 M495.8 472.7h0 M464.1 507.6h0 M498.1 468.9h0 M491 486.8h0 M446 536.8h0 M495.8 513.1h0 M463.8 517.2h0 M455.2 495.7h0 M422.9 529.8h0 M432.8 540h0 M412.3 533.5h0 M524.8 471.8h0 M419.3 516.2h0 M426.6 519.1h0 M466.6 510.6h0 M433.5 533.4h0 M407.8 529.9h0 M478.6 488.1h0 M465.9 520.6h0 M485.4 493.2h0 M483.2 512.9h0 M486.5 473.2h0 M499.8 503.8h0 M503 476.8h0 M465.9 506.8h0 M516.3 483.2h0 M515.3 491.9h0 M495.2 502.2h0 M462.3 492.9h0 M413.3 520.2h0 M518.1 469.6h0 M396.7 534.1h0 M492.9 485.1h0 M489.8 524.6h0 M454.5 539.1h0 M476.7 527.8h0 M520.8 466.3h0 M504.2 469.5h0 M519.6 462.1h0 M466.7 485h0 M514.4 483.1h0 M492.1 476h0 M512.4 471.4h0 M512.6 507.3h0 M525 481.8h0 M452.1 525.4h0 M489 476.4h0 M484.1 497.3h0 M389 553.3h0 M438.6 536h0 M520.1 463.4h0 M461.5 527h0 M489 504.5h0 M431.9 516.3h0 M481.8 510.9h0 M460.1 535.6h0 M527.2 483.4h0 M449.2 535.9h0 M508.6 468.8h0 M460.5 505.7h0 M463.3 490h0 M396.4 542.8h0 M527.8 484.3h0 M417.6 547.7h0 M502.1 466.9h0 M458.9 529.9h0 M412.4 525.8h0 M467.1 502.3h0 M532.6 469.5h0 M477.6 491.9h0 M487.2 484.5h0 M463.8 490.3h0 M515.3 489.1h0 M435 523.3h0 M496.5 490.4h0 M424.5 535.2h0 M434.4 510.8h0 M408.6 533.1h0 M433.1 524.2h0 M416.6 539.2h0 M443.6 516h0 M490.7 502.1h0 M475.1 526.6h0 M518.3 466.4h0 M504.8 468.9h0 M489.8 501.8h0 M452.3 507.7h0 M534 490.9h0 M513.3 474.2h0 M514.6 504.9h0 M411.8 525.6h0 M435.5 535.2h0 M450.7 524.4h0 M472.3 509h0 M463.7 516.7h0 M393.4 541.4h0 M409.9 528.9h0 M526.8 498.9h0 M422.6 544.3h0 M481.7 508.2h0 M499.5 506.9h0 M422.7 519.4h0 M509.1 473.7h0 M494.9 483.6h0 M423 532h0 M402.5 541.8h0 M429.6 513.8h0 M482.8 494.1h0 M480.5 497.5h0 M490.3 503.7h0 M410.4 525.3h0 M458.5 509.7h0 M488.4 492.7h0 M495.5 483.2h0 M484.5 519.5h0 M473.8 503.7h0 M484.4 514h0 M523.9 494.9h0 M484.5 476.9h0 M484.7 491.2h0 M443.6 519.7h0 M481.8 490.2h0 M492.2 492.1h0 M471.3 503.6h0 M483.3 525.7h0 M533.5 495.9h0 M418.9 526.9h0 M508.3 462.3h0 M475.3 509.1h0 M433 524.3h0 M472.1 518.8h0 M466.1 491.9h0 M463.5 517.9h0 M499.4 479.8h0 M396 536.8h0 M474.7 490.8h0 M421.9 528h0 M480.4 511.3h0 M404 533.2h0 M517.3 461h0 M438.9 524.6h0 M454.2 537.4h0 M511.5 464.5h0 M522.1 509.7h0 M508.7 493.2h0 M417.1 521.2h0 M466.6 515.6h0 M475.5 498h0 M433.8 513.3h0 M450.9 518.1h0 M477 523.8h0 M492.1 517.9h0 M474.7 509.2h0 M505.5 479.8h0 M477.7 492.3h0 M501 479.5h0 M520.3 475.8h0 M502.4 492.3h0 M468.1 499.2h0 M515.9 484.6h0 M477.8 499.2h0 M451.8 507.2h0 M422.5 533h0 M444.2 515.5h0 M465.3 497.2h0 M508.3 470.9h0 M432.2 545.4h0 M482.9 504.8h0 M429.5 528.8h0 M510.8 495.3h0 M434.6 523.8h0 M509.3 495.3h0 M428.3 522.6h0 M400.5 538.5h0 M474.3 487h0 M500.4 483.9h0 M429.6 530.6h0 M468.4 526.2h0 M502.8 510.8h0 M480.6 481h0 M424.9 525.2h0 M470.3 517.8h0 M397.9 549.5h0 M478 517.5h0 M525.3 478.5h0 M494.1 495.1h0 M457.3 529h0 M411 543h0 M456.4 529.1h0 M392.3 550.5h0 M440.1 532.9h0 M516.1 496.4h0 M483.6 483.1h0 M503.9 509.2h0 M503.6 509h0 M525.8 461.4h0 M427.1 529.6h0 M503.9 471.4h0 M439.8 518.7h0 M416.1 531h0 M467.7 497.3h0 M473.8 491.6h0 M478.4 500.6h0 M528.2 490.3h0 M484.7 519.1h0 M461 505.3h0 M461.4 523.7h0 M424 525.6h0 M410.4 547.8h0 M486.2 488.5h0 M509.6 478.6h0 M480.1 478.1h0 M521.3 493.6h0 M474.7 515.8h0 M394.2 537.8h0 M454.9 509.7h0 M496.9 483.7h0 M500.4 471.7h0 M518.5 461.2h0 M469.7 482.9h0 M431.8 518h0 M463.6 495.4h0 M501.9 466h0 M472.1 532h0 M494.8 490.5h0 M501.2 494.8h0 M494.6 479h0 M488.5 490.9h0 M468.4 492.6h0 M457.5 508.9h0 M515.2 494.8h0 M532.3 498.2h0 M528.5 494h0 M443.4 513.6h0 M399.1 545.5h0 M461.8 522.5h0 M421.3 548.5h0 M532.8 464.6h0 M495.7 506.6h0 M464.8 487.5h0 M502.4 486.9h0 M478.5 512.9h0 M456.9 526h0 M508.9 495.8h0 M416.1 544.5h0 M464.1 501.3h0 M494 507.8h0 M466.9 516.9h0 M435.7 532.3h0 M432.6 520.3h0 M532.5 495.5h0 M469.4 532.7h0 M407.7 542.6h0 M485.5 524.2h0 M431.4 515.4h0 M512.2 505.4h0 M521.6 462h0 M458.5 528.6h0 M497.7 487.5h0 M438.9 521.2h0 M521.2 470.8h0 M521.3 473.8h0 M408 544.5h0 M496.5 493.5h0 M435.7 532.9h0 M532.4 471h0 M453.5 523.8h0 M409.7 547.7h0 M494.3 503.2h0 M452.8 502.6h0 M529.7 491.2h0 M533.6 472.9h0 M516.2 476h0 M498.3 503.3h0 M513.8 480.1h0 M409.1 546.2h0 M534.8 474.4h0 M447.1 500.8h0 M524.5 490.7h0 M433.7 508.6h0 M519.8 507.6h0 M429.7 513.3h0 M498.3 475.5h0 M405.2 532.9h0 M458 535.5h0 M530.3 467.5h0 M488.6 517.7h0 M525.5 467h0 M401.3 554.3h0 M445.4 515.6h0 M489.7 496.5h0 M461.2 531.4h0 M490.1 502.1h0 M452 513.1h0 M495.2 473.5h0 M520.7 500.8h0 M429.8 524.8h0 M462.4 519.7h0 M491.2 483.4h0 M515.3 497.5h0 M393.4 544.9h0 M536.6 469.9h0 M487 521.7h0 M529.4 458.6h0 M473.7 533.1h0 M406.1 534.4h0 M446.3 512.1h0 M502.5 479h0 M474.8 502.9h0 M522.4 497.5h0 M436.1 518.5h0 M455.6 516.2h0 M520.6 459.5h0 M521.7 481.2h0 M468.5 491h0 M506.9 510.1h0 M453.9 537.4h0 M446.8 531.5h0 M455.1 534.6h0 M497 483.9h0 M417.2 521.5h0 M486.4 489.8h0 M522.9 478.7h0 M483 488.2h0 M471 482.9h0 M520.9 501h0 M499.6 477.1h0 M480.5 490.5h0 M453.4 535.1h0 M473.8 492.6h0 M454.3 536.7h0 M383.9 546.1h0 M402.6 532.3h0 M504.5 504.5h0 M490.2 486.7h0 M511.5 510.1h0 M398.6 535.8h0 M442.4 543.1h0 M498 486h0 M477.9 500.5h0 M494.7 480.9h0 M516 495.2h0 M438 505.6h0 M496.5 496.9h0 M467.9 504.5h0 M528.9 497.4h0 M511.5 461.9h0 M476 531.5h0 M482 526.7h0 M512 476.1h0 M462.7 492.8h0 M430.2 542.9h0 M428.2 529.7h0 M488.3 475.7h0 M514.5 483.4h0 M459.9 501.4h0 M446.2 501.8h0 M530.4 486.3h0 M505.4 468h0 M428.9 530.5h0 M498.8 491.1h0 M532.6 485.2h0 M473.7 533.7h0 M475.1 486.9h0 M479.4 478.6h0 M444.9 530.1h0 M491.9 511.6h0 M423.5 524.6h0 M498.1 486.3h0 M459.8 509.4h0 M457.4 533.2h0 M429.2 525.2h0 M464.3 508.1h0 M488.9 470.5h0 M415.7 546.1h0 M486.4 522.5h0 M426.8 542.6h0 M462.3 533.8h0 M445.1 539.5h0 M445 503.6h0 M471.7 501h0 M447 504.4h0 M431 537.2h0 M491.1 485.7h0 M443.5 505.6h0 M475.2 475.1h0 M519.2 500.9h0 M525.6 499.7h0 M461.7 519.2h0 M406.5 530.8h0 M443.2 511.5h0 M523.4 502.7h0 M497.6 495.6h0 M458.9 500.8h0 M531.8 495.3h0 M488.9 477h0 M441.7 529.3h0 M445.5 525.5h0 M406.2 535.9h0 M480.9 511.9h0 M517.8 502.1h0 M489.2 523h0 M412.2 526.2h0 M471.5 504.9h0 M423.4 522.2h0 M464 528.5h0 M516.2 501.4h0 M452 530.8h0 M495.6 511.9h0 M498.9 504.5h0 M432.3 526.8h0 M416.6 541.3h0 M513.7 504.4h0 M414.7 537.9h0 M433.9 521.1h0 M509.9 508.8h0 M520.5 493.3h0 M417 524.1h0 M509.9 492.7h0 M468.3 486.8h0 M529 469.4h0 M434.3 519.9h0 M498.6 473.3h0 M436.2 509.7h0 M524.4 501.1h0 M487.9 510.5h0 M480.7 506h0 M467.1 504h0 M482.7 495.2h0 M476.5 515.4h0 M470.1 499.3h0 M457 530.7h0 M511.7 484h0 M533 463.6h0 M487.6 495.8h0 M470.8 490.1h0 M413.3 538.5h0 M403.8 535.5h0 M472.6 507.1h0 M444 543.7h0 M471.3 501.5h0 M449.9 528.8h0 M492.3 491.3h0 M513.9 461.8h0 M479.5 482.6h0 M404.6 540.1h0 M508.5 474.5h0 M470.4 489.7h0 M406.9 551.9h0 M483 522.6h0 M484.1 475.6h0 M442.8 530.9h0 M510.3 489.6h0 M507.5 511.5h0 M471.2 487.9h0 M454.2 518.8h0 M442.7 507.5h0 M521.6 481.7h0 M486.8 506.9h0 M475.1 529.1h0 M527.3 483.4h0 M488.5 509h0 M498.1 467.4h0 M480.2 484.3h0 M439.1 516.3h0 M437.5 526.5h0 M398.5 548.4h0 M515.2 481.3h0 M494.6 487.4h0 M457.3 526.9h0 M477.6 493.7h0 M515.6 467h0 M461.2 513.1h0 M434.2 538.3h0 M497.1 491.4h0 M463.1 532.4h0 M465.1 502.5h0 M466.6 532h0 M410.6 542.5h0 M474.5 527.4h0 M435.6 544h0 M419.8 526.9h0 M531.9 502h0 M527.5 474.3h0 M534.1 469.2h0 M532.5 486.1h0 M510.4 496.6h0 M501.6 465.1h0 M425.2 544.6h0 M504.6 503.7h0 M520.5 494h0 M491 523.8h0 M480.7 474.7h0 M502.6 497.1h0 M459.3 520.2h0 M431.1 542.1h0 M522.3 462.2h0 M492.1 519.5h0 M475 505.6h0 M471.4 479.2h0 M487.6 505.5h0 M482.5 525.4h0 M383.6 553.6h0 M473.7 508.2h0 M515.8 498.6h0 M527.9 473.7h0 M413.9 544.5h0 M527.6 490.6h0 M407.6 547.4h0 M501.7 510.2h0 M505.4 466.9h0 M499.4 486.4h0 M504.2 503.9h0 M487.3 486.3h0 M432.7 524.9h0 M481 497.7h0 M423.4 526.5h0 M406.5 538.2h0 M517.5 485.4h0 M462.8 506.6h0 M474 528.1h0 M492.2 506h0 M526 482.5h0 M429.2 522.9h0 M486.6 485.3h0 M528 486.1h0 M487.2 495.8h0 M499.2 512.1h0 M507.8 508.2h0 M388.2 554.7h0 M439.2 513.5h0 M521.2 492.7h0 M503 498.3h0 M532.1 476.7h0 M520.1 487.7h0 M460.3 524.5h0 M497.8 467.9h0 M458.8 505h0 M479 521.2h0 M485 503.5h0 M463 497.8h0 M453.5 495.5h0 M503.4 456.5h0 M551.2 496.1h0 M557.3 443.3h0 M562.6 460.8h0 M556 455.7h0 M534.1 492.2h0 M520.4 463.9h0 M530 459.9h0 M531.7 451h0 M462.5 472.4h0 M582.7 447h0 M552.8 432.6h0 M522.9 439.2h0 M541.9 469.6h0 M569.3 484.2h0 M589.6 440.1h0 M453.7 490.2h0 M576.3 458.6h0 M566.2 434.9h0 M453.4 482.8h0 M553.1 425h0 M543.2 442.1h0 M456 478h0 M475.9 468.6h0 M576.2 463h0 M525.4 446.7h0 M509.6 449.1h0 M580.7 462h0 M548.2 486.7h0 M535.2 429.8h0 M517.4 435.4h0 M515 471.6h0 M488.5 501.5h0 M448.1 519.5h0 M493.8 501.9h0 M448.4 524h0 M459.5 522.3h0 M459.5 513.4h0 M436.4 513.6h0 M495 500.6h0 M481.3 513.3h0 M467.8 510.4h0 M462.4 512.9h0 M457.9 519.9h0 M447.4 506.2h0 M416.9 542.4h0 M455.1 512.2h0 M422.2 519.9h0 M473.6 497.7h0 M461.3 520.2h0 M489.2 493.9h0 M467.5 509.5h0 M448.2 513.1h0 M440.6 524.3h0 M461.5 518.4h0 M516.6 496.5h0 M423.3 533.7h0 M450.6 500.9h0 M446.6 531.1h0 M463.8 508.5h0 M469.3 523.9h0 M442.4 517.1h0 M423 532.1h0 M449.6 513.1h0 M444.4 520.5h0 M468 504.1h0 M404.2 543.4h0 M463.4 494.7h0 M485.8 512.7h0 M428.8 528.2h0 M498.9 491.7h0 M495.3 503.7h0 M470.7 509h0 M468 514.6h0 M487.6 502.3h0 M473.1 502h0 M454.3 514.2h0 M510.8 502.5h0 M429.9 531.7h0 M520.8 485.7h0 M478.2 502.9h0 M441.5 520.5h0 M525.1 475.4h0 M476.1 509h0 M464.2 505.1h0 M479.4 505.4h0 M496.1 499.6h0 M455.2 501.3h0 M448.4 519.1h0 M460 509.9h0 M469.8 520.4h0 M423.4 548h0 M488.6 493.5h0 M500 490h0 M470.7 509.1h0 M469.8 505.5h0 M483 507.9h0 M482.7 509.4h0 M437.2 525.9h0 M500.1 490.1h0 M452 523h0 M463.5 525.1h0 M505.1 492.7h0 M477.5 504.6h0 M469.4 509.4h0 M491.7 502.7h0 M433.8 532.8h0 M440 537.7h0 M462.3 504.8h0 M454.4 513.6h0 M458 505.1h0 M421.5 530.3h0 M464.7 496.5h0 M442.7 528.5h0 M453.4 515h0 M455.4 514.9h0 M457.7 511.9h0 M489.4 500.2h0 M415.4 539h0 M497.3 497.9h0 M494.1 480.6h0 M468 507.4h0 M475.8 495.8h0 M467.2 501.4h0 M494 484.7h0 M482.1 491.7h0 M462.7 498.9h0 M474.3 495.9h0 M454.7 504.6h0 M448.9 528.3h0 M437.7 504.3h0 M492.7 488.9h0 M464 511.7h0 M434.9 535.5h0 M447.4 537.5h0 M482.4 497.5h0 M445.2 514.8h0 M509.7 490.5h0 M478.3 502.2h0 M446.5 511h0 M441.3 522.9h0 M462.3 516.1h0 M482.8 511h0 M426.1 534.3h0 M501.2 499.4h0 M433.7 512.2h0 M436 519.3h0 M471.2 511h0 M469.9 518.7h0 M477.9 504.5h0 M449.6 530.1h0 M434.1 529.3h0 M497.9 501.7h0 M466.9 498.1h0 M436 512.8h0 M446.6 516.8h0 M482 500.2h0 M441.2 537.7h0 M468 524.2h0 M471.1 502.2h0 M500.5 499.8h0 M481.3 496.5h0 M481 509.6h0 M486.3 496.2h0 M485.7 506.2h0 M501.3 507.9h0 M451.6 518.3h0 M419.3 544.1h0 M458.9 514.1h0 M454.1 507.9h0 M423.8 530.3h0 M484 499.5h0 M486.5 506.5h0 M472.8 501.4h0 M504.2 479.1h0 M466.1 503.6h0 M477.5 514.8h0 M406 544.2h0 M475.6 504h0 M457.7 517.3h0 M459 511.2h0 M476.1 515.9h0 M498.3 506h0 M473.3 509.2h0 M473.9 507.6h0 M492.3 503.4h0 M416.5 545.3h0 M461.3 529h0 M425.9 535.9h0 M491.8 489.2h0 M453 509.9h0 M464 507.3h0 M456.8 517.8h0 M467.1 504.3h0 M473.7 508.4h0 M496.5 485.9h0 M457.2 520.3h0 M502.2 500.4h0 M526.5 475.6h0 M477.3 501.5h0 M464.1 508.4h0 M478.1 499.3h0 M445.4 519.3h0 M502.9 490.8h0 M511.8 480.7h0 M432.3 533.2h0 M415.8 530.7h0 M508.2 494.3h0 M425.5 523.5h0 M448.6 508.2h0 M464.8 501.1h0 M433.3 527.6h0 M472.1 504.2h0 M451.6 506.5h0 M485.6 504.4h0 M430 524.7h0 M410.4 541.8h0 M415.7 531h0 M432.6 526.3h0 M507.3 495.7h0 M451.3 519.4h0 M482.7 491.4h0 M432.5 523.2h0 M424.5 527h0 M443 526.8h0 M452.7 514.5h0 M426.9 541.1h0 M451.9 514.4h0 M484.8 502.5h0 M457.9 522.3h0 M470.7 509.6h0 M448.2 506.4h0 M440.8 535.3h0 M395.9 543.9h0 M465.2 498.5h0 M441.5 513.9h0 M467.1 489.4h0 M496.1 503.3h0 M443.3 525.4h0 M444.2 522.3h0 M481.8 501.4h0 M478 498.9h0 M508.4 489h0 M485.8 510.5h0 M497.7 496.2h0 M484.8 510.9h0 M502.6 497.6h0 M505.3 501.8h0 M456.7 506.6h0 M471.5 502.9h0 M423.5 535.3h0 M474.6 505.3h0 M484.6 503.4h0 M455.2 516.3h0 M455.4 519.5h0 M470.2 506.8h0 M491.8 492.2h0 M457.3 523.9h0 M480.5 506.4h0 M481.7 504.4h0 M471 506.8h0 M503.1 482h0 M414.4 533.2h0 M505.9 488.7h0 M488.5 507.1h0 M468.3 504.2h0 M452.5 523h0 M488.3 499.6h0 M427.9 524.5h0 M418.2 536.8h0 M443.7 522.4h0 M489.3 496.7h0 M442.7 516h0 M458.3 509.9h0 M428.8 527.4h0 M508 490h0 M470 502.3h0 M460.5 509.9h0 M484 499.5h0 M437.4 527.9h0 M434.8 522.4h0 M466.2 512.4h0 M457.5 512.6h0 M465.3 504.7h0 M499.7 479.2h0 M479.6 519.5h0 M433 526.9h0 M485.9 509.5h0 M495.5 483.6h0 M497 492.3h0 M493.1 517h0 M463 521.7h0 M459.4 529.7h0 M440.8 534.6h0 M448.3 514.6h0 M462.8 504.8h0 M418.9 516h0 M490.6 498h0 M437.4 536.2h0 M465 515.7h0 M490.1 493.2h0 M430.6 529.5h0 M477.2 494.1h0 M490.4 493.7h0 M467.8 492.8h0 M515.5 478.4h0 M461.5 516h0 M474.5 499.4h0 M417.6 547.9h0 M438.4 519.7h0 M476.2 504.2h0 M476.9 515.4h0 M490.1 498.1h0 M548.2 476h0 M510.6 477.3h0 M479.3 504.4h0 M486.8 496.9h0 M446 505.8h0 M461.2 520.9h0 M489 490h0 M500.4 518.3h0 M470.4 501.4h0 M462.5 511.2h0 M440.9 522.1h0 M517.5 492.9h0 M436.2 518.2h0 M484 510h0 M475.4 496.1h0 M437 524.5h0 M457.1 514.4h0 M454.5 522h0 M523.1 344.9h0 M482.3 384.9h0 M441.2 407.1h0 M470.3 409h0 M485.1 406.1h0 M487.4 413.5h0 M493.7 413.5h0 M513.3 411.9h0 M523.4 415.9h0 M459.8 426.9h0 M506.6 426.7h0 M511 430.8h0 M465.2 439.4h0 M486.7 436.5h0 M511.5 436.7h0 M500 438.9h0 M497.2 441.8h0 M517.5 438.7h0 M518.5 440.3h0 M502.8 444.2h0 M509.1 444.9h0 M511.7 446.6h0 M522.7 444.2h0 M500.9 449.4h0 M502.4 450.6h0 M491.4 451.8h0 M512.6 452.5h0 M508 455.4h0 M477.1 453.7h0 M479 455.4h0 M479.5 458.3h0 M458.9 457.1h0 M442.8 459.2h0 M495.8 459h0 M470.1 460.2h0 M523.8 449.4h0 M669.4 333.4h0 M608.9 345.6h0 M555.6 352.8h0 M535.7 374.3h0 M550 394.9h0 M598.6 401.8h0 M617.7 403h0 M559.1 409h0 M565.2 412.4h0 M526.9 414.3h0 M647.9 418.8h0 M526.9 424.3h0 M573.8 422.6h0 M588.1 421.9h0 M576.9 426.9h0 M596.9 425.3h0 M589.5 428.1h0 M550 428.9h0 M561.4 429.8h0 M542.1 432.7h0 M531.1 433.9h0 M533.9 437h0 M528.3 441.1h0 M535.3 442.2h0 M539.5 443.4h0 M569.8 441.5h0 M639 444.2h0 M614.9 445.6h0 M601.2 446.8h0 M579.2 446.3h0 M551.6 446.8h0 M555.4 449.4h0 M577.3 449.9h0 M539 448.2h0 M554.2 452.1h0 M564.2 451.6h0 M571.7 453.2h0 M555.8 454.4h0 M597.9 455.6h0 M532.9 456.6h0 M540.9 457.8h0 M544.4 458.3h0 M550 458.3h0 M578 458.5h0 M568.2 460.2h0 M526.9 452.5h0 M525.9 448.9h0 M379.5 551.4h0 M383.9 564.8h0 M390.9 557.2h0 M391.9 560.5h0 M397.2 564.8h0 M411.5 562.2h0 M432.7 560.5h0 M390 537.1h0 M395.4 529.2h0 M408.2 524.4h0 M416.4 509.1h0 M424.6 504.8h0 M430.4 501.9h0 M435.1 491.2h0 M440.2 482.8h0 M443.3 480.9h0 M446.1 472.5h0 M442.8 458.9h0 M455.6 469.7h0 M458.9 456.7h0 M473.2 464.9h0 M469.6 460.6h0 M477.1 454.6h0 M479.5 457.5h0 M491.8 451.5h0 M501.7 449.3h0 M507.5 455.8h0 M479.5 537.1h0 M473.6 535.4h0 M453.8 545h0 M449.1 541.9h0 M438.6 551.4h0 M491.1 530.4h0 M495.3 529.2h0 M500 521.5h0 M508.2 520.4h0 M514.5 525.1h0 M518 519.2h0 M522 515.1h0 M647.7 418.9h0 M639 444h0 M615.1 445.6h0 M601.2 446.9h0 M597.7 455.5h0 M586.5 464.1h0 M593.3 476.8h0 M581.2 492.6h0 M569.9 441.8h0 M579.1 446.4h0 M577 449.9h0 M571.7 453.4h0 M564.1 451.8h0 M577.5 458.8h0 M568.6 460.1h0 M574.1 464.7h0 M577.3 466.6h0 M572 470h0 M568.8 474.9h0 M563.3 465.5h0 M558.9 463.3h0 M560.2 471.9h0 M558.9 478.1h0 M560.2 482.7h0 M561.2 490.8h0 M551.8 489.4h0 M552.3 469.2h0 M551.8 447.2h0 M554.9 449.9h0 M555.4 453.9h0 M549.7 458.8h0 M544.4 457.9h0 M539.7 466h0 M538.6 448h0 M539.2 443.1h0 M534.4 441.3h0 M543.6 503.7h0 M540.5 508.5h0 M537.8 497.8h0 M536 503.7h0 M530 505h0 M523.9 513.9h0 M518.1 519.3h0 M515 525.2h0 M507.6 519.8h0 M544.4 486.2h0 M544.4 490.2h0 M544.4 479.5h0 M539.2 478.7h0 M537.8 474.1h0" fill="none" stroke="#1f77b4" stroke-width="4.30" stroke-linecap="round"/></g>
<path d="M378.7 535.4L669.6 345.4" stroke="#ff7f0e" stroke-width="0.80" fill="none"/>
<path d="M365.1 314.4H684.8" stroke="#4a4a4a" stroke-width="0.80"/>
<path d="M684.5 314.1V563.1" stroke="#444" stroke-width="1.00"/>
<path d="M365.1 562.8H684.8" stroke="#7a7a7a" stroke-width="1.30"/>
<path d="M365.4 314.1V563.1" stroke="#4a4a4a" stroke-width="0.80"/>
<path d="M365.4 549.1h-1.8M365.4 520.6h-1.8M365.4 492.1h-1.8M365.4 463.5h-1.8M365.4 435.0h-1.8M365.4 406.5h-1.8M365.4 378.0h-1.8M365.4 349.4h-1.8M365.4 320.9h-1.8M401.4 562.8v1.8M445.1 562.8v1.8M488.8 562.8v1.8M532.4 562.8v1.8M576.1 562.8v1.8M619.8 562.8v1.8M663.4 562.8v1.8" stroke="#333" stroke-width="0.5" fill="none"/>
<g font-family="'DejaVu Sans','Liberation Sans',sans-serif" font-size="5.40" fill="#111"><text transform="translate(360.1,551.6) scale(1,1.250)" text-anchor="end">1.00</text><text transform="translate(360.1,523.0) scale(1,1.250)" text-anchor="end">1.25</text><text transform="translate(360.1,494.5) scale(1,1.250)" text-anchor="end">1.50</text><text transform="translate(360.1,466.0) scale(1,1.250)" text-anchor="end">1.75</text><text transform="translate(360.1,437.5) scale(1,1.250)" text-anchor="end">2.00</text><text transform="translate(360.1,408.9) scale(1,1.250)" text-anchor="end">2.25</text><text transform="translate(360.1,380.4) scale(1,1.250)" text-anchor="end">2.50</text><text transform="translate(360.1,351.9) scale(1,1.250)" text-anchor="end">2.75</text><text transform="translate(360.1,323.4) scale(1,1.250)" text-anchor="end">3.00</text><text transform="translate(401.4,571.8) scale(1,1.250)" text-anchor="middle">1.25</text><text transform="translate(445.1,571.8) scale(1,1.250)" text-anchor="middle">1.50</text><text transform="translate(488.8,571.8) scale(1,1.250)" text-anchor="middle">1.75</text><text transform="translate(532.4,571.8) scale(1,1.250)" text-anchor="middle">2.00</text><text transform="translate(576.1,571.8) scale(1,1.250)" text-anchor="middle">2.25</text><text transform="translate(619.8,571.8) scale(1,1.250)" text-anchor="middle">2.50</text><text transform="translate(663.4,571.8) scale(1,1.250)" text-anchor="middle">2.75</text></g></g>
<g id="p4"><g transform="scale(1,0.9333)"><path d="M126.4 879.7h0 M91.6 857.2h0 M145.2 820.2h0 M159.6 842.8h0 M56 908h0 M46.5 911h0 M119 831.4h0 M109.7 881.3h0 M63 902.3h0 M118 865.5h0 M127.7 822.7h0 M101.2 847.6h0 M145.2 859h0 M107.8 888.7h0 M109.6 843h0 M102.8 845.5h0 M137.3 864.1h0 M136.6 878.9h0 M101 868.4h0 M67.1 892.6h0 M147.5 833.8h0 M83.3 895.7h0 M172.3 863.6h0 M158.7 807.2h0 M115.1 851.7h0 M134.9 817.5h0 M126.9 831.7h0 M98.8 868.9h0 M161.2 855h0 M125.3 830.6h0 M151.6 875.1h0 M107.5 865.9h0 M169.6 859.8h0 M133.1 853.9h0 M177.5 822.2h0 M78.1 882.7h0 M177.7 814.1h0 M183.7 839.8h0 M125 863.7h0 M160.7 837.6h0 M66.1 889.9h0 M121.4 883.5h0 M119.6 859.3h0 M96.9 863.6h0 M176.1 844.3h0 M107.1 894.6h0 M185.6 839.6h0 M109.3 869.8h0 M149.2 823h0 M159.7 826.2h0 M97.6 887.4h0 M125.2 827.6h0 M120 862.9h0 M115.1 852.6h0 M118.1 841h0 M152.2 811.4h0 M166.4 816h0 M164.3 821h0 M171 851.6h0 M112.2 857.2h0 M56.4 905h0 M165.3 851.5h0 M103 857.7h0 M102.5 856.1h0 M160.6 855.2h0 M155.3 855.5h0 M89 874.2h0 M138.7 852.9h0 M169 826.1h0 M107.2 877.8h0 M141.9 816.2h0 M126.1 872.5h0 M116.7 842.3h0 M59.9 897.7h0 M84.3 872.8h0 M76.1 900.5h0 M135 825.3h0 M100.5 894.3h0 M168.6 862.5h0 M120 885.3h0 M146.9 843.3h0 M51.5 900.9h0 M53 905.5h0 M86.6 879.7h0 M145.8 878.8h0 M119.5 888.5h0 M169 813.4h0 M164.3 834.9h0 M150.6 856.5h0 M145.5 826.9h0 M135.6 841h0 M98.5 876.3h0 M175.1 826.5h0 M112 857.8h0 M138.5 818.3h0 M182.2 825.1h0 M116.8 868.6h0 M54.9 906.8h0 M111 851.2h0 M85.4 882.6h0 M87.5 871.5h0 M153.4 862.1h0 M83.6 899.2h0 M102.7 853.7h0 M113.3 874.9h0 M93.6 896.7h0 M172.4 851.9h0 M178 813.5h0 M142.1 877.4h0 M90.7 863.2h0 M124.6 832.2h0 M130.8 880.5h0 M118.8 877.8h0 M157.2 861.7h0 M174.9 847.6h0 M143.7 873.5h0 M105.7 877.9h0 M125.6 874.8h0 M148.7 837.9h0 M78 877.4h0 M146.3 872.8h0 M134.8 823.9h0 M178.6 823.3h0 M143.6 869.1h0 M152.1 829.6h0 M130.4 825.1h0 M165 846h0 M132.6 868.8h0 M175.7 816.6h0 M103.3 866.8h0 M172.3 844.1h0 M53.4 907.6h0 M116.7 855.3h0 M154.8 826.2h0 M91.5 859h0 M81.2 903.2h0 M69.3 880.2h0 M139.3 881.1h0 M132.6 827.2h0 M82.7 895.9h0 M160.3 849.5h0 M116.1 837.5h0 M150.6 812.7h0 M115.1 860.3h0 M140.7 829.7h0 M70.7 888.3h0 M67.6 896h0 M55.8 903.9h0 M112.2 831.3h0 M82.1 870.4h0 M83.9 871.4h0 M166 864.1h0 M127.5 845.2h0 M123.7 879.9h0 M77.8 905.9h0 M117.8 885.2h0 M126.4 872.6h0 M172.2 853.2h0 M169.7 849.4h0 M63.2 891.1h0 M78.1 874.4h0 M84.4 880.6h0 M137.2 852.2h0 M109.1 889.8h0 M132.1 885.1h0 M101.5 865.6h0 M172.1 839.4h0 M105.5 845.9h0 M141.7 839.5h0 M53.3 909.5h0 M88.1 880.3h0 M84 869.2h0 M151.2 814.8h0 M143.2 872.8h0 M80.6 884.1h0 M132.9 818.5h0 M171.3 818.1h0 M142.6 848.5h0 M87 868.6h0 M126.3 867.7h0 M105.9 878h0 M135.4 843.7h0 M108.2 841.4h0 M123.6 864.2h0 M120.6 868.7h0 M185.8 835.6h0 M130.4 849.7h0 M106.7 889.4h0 M143.1 832.8h0 M91 876.9h0 M88.3 881h0 M81.5 873.5h0 M94.3 894.5h0 M94.4 877.5h0 M57.1 906.5h0 M131 851.8h0 M95.2 888.5h0 M165 853h0 M78.8 885.6h0 M142.7 839.3h0 M96.2 884.2h0 M57.9 895.9h0 M136.9 876.5h0 M143.8 841.6h0 M120.4 877.2h0 M50.2 909h0 M148.3 871h0 M84.3 864.8h0 M128.6 876.8h0 M83.4 899.4h0 M167 836.6h0 M97.4 857.9h0 M171.1 830.9h0 M111 836.5h0 M107.6 882.9h0 M96.7 856.3h0 M115.5 861h0 M51.7 902.8h0 M76.8 886.1h0 M159.2 850.6h0 M107 875.5h0 M56 901.4h0 M86.8 898.1h0 M175.8 825h0 M139 821.2h0 M91.9 896.9h0 M121.8 863h0 M138.2 855.1h0 M170.8 844.3h0 M149 833.6h0 M93.8 856.5h0 M126.3 848.9h0 M174.5 851.7h0 M151.4 858.8h0 M146.3 813.2h0 M138.4 824.2h0 M132.4 838.7h0 M124.8 868.1h0 M66.2 891.5h0 M149.1 865.8h0 M83.4 891.8h0 M109.9 870.9h0 M76.8 886.3h0 M129 851.4h0 M87.6 890.4h0 M99.6 889.3h0 M79.3 896.4h0 M108.9 840.1h0 M102.4 862.4h0 M66.8 884.3h0 M71.6 902.5h0 M118.7 847.7h0 M145.7 815.6h0 M112.2 869.6h0 M101.5 847.4h0 M103.9 864.2h0 M49.7 906.4h0 M111.5 861.5h0 M42.6 905.6h0 M177.1 841.9h0 M159.8 831h0 M156.3 810.3h0 M103.8 844.9h0 M115.4 856.7h0 M157.6 811.2h0 M173.3 813.6h0 M156.9 807.1h0 M103.6 855.4h0 M171.7 852.3h0 M95.9 865.4h0 M144.5 851.6h0 M172.1 826.9h0 M112.7 885.4h0 M134.6 836.5h0 M113.7 870.3h0 M88.4 871.1h0 M82.5 872.3h0 M137 819h0 M160.2 810h0 M152.2 856.7h0 M103 858.1h0 M129 855.3h0 M91.4 886.9h0 M123.7 836.8h0 M149.5 860h0 M175.6 821.8h0 M155.7 842.4h0 M106.5 894.2h0 M121.9 847.5h0 M84.5 900h0 M73.3 902.5h0 M90.1 878.3h0 M79.4 895.8h0 M161 846.8h0 M72 904.3h0 M155 875.5h0 M141.9 822.7h0 M119.6 846h0 M151.8 853.5h0 M117.3 883.3h0 M84.3 881.1h0 M165 826.1h0 M58.5 905.9h0 M83.3 886.9h0 M148.5 869.4h0 M150 863h0 M110.4 893.5h0 M96.7 858.6h0 M117.1 852h0 M102.8 846.1h0 M125.8 840.4h0 M134.6 849h0 M184.1 833.3h0 M116.5 876.7h0 M66.9 903.8h0 M105.7 863.2h0 M120.2 829.5h0 M145.7 848.9h0 M81.3 877.2h0 M102.4 866h0 M110.4 875.6h0 M110.2 874.9h0 M153.5 809.1h0 M126 841.8h0 M108.3 870.8h0 M135.1 854.4h0 M89.2 866h0 M127.4 880.9h0 M85.6 877h0 M115.7 865.7h0 M169.2 846.5h0 M127.7 855.9h0 M177.5 816h0 M130.1 874.5h0 M64.4 903.9h0 M143.8 860h0 M63.4 901h0 M104.2 865.7h0 M82.4 878.3h0 M124.6 866.4h0 M163.1 850.9h0 M120.9 857h0 M186 844.1h0 M105.2 866.4h0 M168 838.5h0 M129.6 862.6h0 M164.9 809h0 M106.1 859.1h0 M180 814.9h0 M138.3 819.9h0 M169.9 832.7h0 M160 837.7h0 M134.8 816h0 M120.3 863.1h0 M170.5 854.2h0 M152.6 823.4h0 M176.5 833.3h0 M84.3 894.7h0 M131.4 866.5h0 M126.2 866.2h0 M185.4 831h0 M145 821.4h0 M119.1 856.6h0 M160.5 820.7h0 M77.4 886.8h0 M81.3 889.1h0 M159.4 827.9h0 M167.9 845.5h0 M148.7 874.2h0 M116.5 868.9h0 M144.9 866.7h0 M99.6 849.2h0 M71.3 898.4h0 M171 839.3h0 M72.2 877.8h0 M126.9 844.1h0 M81.4 895.3h0 M137.3 839.3h0 M84.8 891h0 M77.1 885.6h0 M89.2 885.6h0 M110.3 840h0 M154 862.1h0 M161.2 822.3h0 M65.7 905.4h0 M75.2 895.8h0 M70.1 883.4h0 M144.1 826.9h0 M138.4 873.1h0 M63.4 887.2h0 M56.5 904.9h0 M103.7 891h0 M81.6 903.4h0 M152.4 826.6h0 M99.8 850.4h0 M132.3 872.5h0 M179.2 826.5h0 M102.4 854.5h0 M73.4 896.7h0 M126.3 842.6h0 M158.6 849.7h0 M129.9 841.4h0 M52.5 900.4h0 M120.5 848.8h0 M82.9 874.3h0 M133.4 827.1h0 M150 872.7h0 M167.1 824.1h0 M82 885.6h0 M41.8 905.6h0 M110.3 881.6h0 M139 848.7h0 M101.3 844h0 M56.3 902.6h0 M109.9 875h0 M114.1 869.6h0 M155.8 817.4h0 M183.1 840.2h0 M63.8 907.7h0 M183.7 841.5h0 M127.8 846.3h0 M119.9 837.9h0 M127.3 836.9h0 M162.6 853.1h0 M141.2 847h0 M82.9 894.2h0 M126 822h0 M143 865.1h0 M58.4 909.3h0 M157.8 826.4h0 M106.1 852.6h0 M105 860.1h0 M128.9 845.6h0 M100.6 851h0 M127.5 868h0 M130.9 848.2h0 M101.8 845.5h0 M171 844.7h0 M108.5 881.8h0 M162.3 809.9h0 M138.8 837.3h0 M125.9 872.3h0 M105.1 861.3h0 M130 846.7h0 M175.3 838.5h0 M115.5 843.7h0 M122.6 850.5h0 M176.2 827.1h0 M164.8 820.5h0 M117.2 849h0 M161.5 835h0 M52.8 908.3h0 M154.2 870.9h0 M148.4 877.2h0 M56.4 895.7h0 M157.6 840.4h0 M111 833.6h0 M139.5 846.1h0 M163.3 830.5h0 M110.6 888.5h0 M117.3 884.3h0 M164.6 828.7h0 M79.9 902.4h0 M132.2 818.5h0 M167.5 853.2h0 M86.2 879.9h0 M89.8 866.5h0 M121.6 834.4h0 M129.2 880.8h0 M111.6 857.7h0 M142.3 848.1h0 M74.1 903.8h0 M118.7 862.9h0 M146.8 826.2h0 M151.5 839h0 M91.2 872.9h0 M130.4 824.1h0 M71.4 880h0 M94.6 869.2h0 M126.9 820.8h0 M115.7 862.5h0 M150.5 852.2h0 M169.6 839h0 M110.9 843.1h0 M172.9 851.2h0 M163.4 831.2h0 M143.9 836.6h0 M54 898.3h0 M135 857.3h0 M147.5 864.9h0 M120.2 827.6h0 M136.3 850.7h0 M144 843.4h0 M120.1 842.6h0 M80.4 883.7h0 M106.8 843.4h0 M125.5 841.9h0 M72.2 882.7h0 M101.3 882.8h0 M118.1 845.6h0 M168.5 832.1h0 M89.5 892.4h0 M81.7 872.9h0 M133.3 844.5h0 M123.7 861.1h0 M118.7 861.9h0 M164.7 838.9h0 M127.9 885.1h0 M52.5 904.5h0 M65.2 896.9h0 M117.2 874.7h0 M108 858.7h0 M114.3 875.8h0 M84.7 890.2h0 M146.1 856.2h0 M105.5 876.4h0 M131.5 823h0 M125.1 871.7h0 M116.5 876.1h0 M126.9 867.2h0 M116 869.1h0 M162.8 836.5h0 M157.4 841.2h0 M152.3 822.3h0 M145.7 853.8h0 M152.6 815.9h0 M115.2 836.7h0 M81.2 884.3h0 M117.2 870.7h0 M131.1 841h0 M116.8 846.4h0 M54.9 908h0 M88 883.1h0 M145.8 821.4h0 M55.4 897h0 M61.1 893.3h0 M146.8 827.2h0 M106.5 851.4h0 M51.1 910.8h0 M89.5 860.6h0 M136.9 830.7h0 M142.3 836.6h0 M54.2 900.8h0 M70.5 883.8h0 M168.1 839.2h0 M145.5 841.9h0 M111.6 874.7h0 M63.7 890.1h0 M67.9 880.6h0 M115.3 879.5h0 M171.1 850.1h0 M174.1 853.5h0 M129 881.4h0 M147.4 866.5h0 M136.4 840.9h0 M46.7 910.5h0 M108.3 848.8h0 M131.1 836.4h0 M145.8 849.6h0 M112.7 858.4h0 M141.5 839.3h0 M175 826.7h0 M171.5 822.5h0 M143.9 853.1h0 M163.8 851.7h0 M123.2 833h0 M176.6 810.5h0 M104.3 882.2h0 M163.8 837.9h0 M91.1 901.9h0 M86.7 900h0 M104.5 889.7h0 M101.5 893.4h0 M124.1 825.9h0 M182.6 824.4h0 M154.7 831.5h0 M170.4 856.3h0 M161.4 830.7h0 M118.1 850.8h0 M125.9 878.6h0 M145.1 843.3h0 M162.1 855.7h0 M95.7 867.7h0 M143.9 815.2h0 M142.3 816h0 M164 827.5h0 M135.2 815.3h0 M106.7 858.4h0 M98.6 857.6h0 M157.3 831.3h0 M74.9 895.7h0 M113.2 887.9h0 M151.3 820.8h0 M87.5 897.8h0 M98.1 887.1h0 M73.2 887.8h0 M99.2 867.9h0 M99.7 889.5h0 M86.5 878.9h0 M181.6 829.6h0 M64.9 891.2h0 M155.8 812.8h0 M125.2 860.4h0 M111.3 880.5h0 M134.6 832.3h0 M147.7 869.8h0 M136.7 865.1h0 M90.7 901.9h0 M162.6 831.8h0 M52.9 902.7h0 M89.7 873.7h0 M152.6 871.8h0 M138 858.2h0 M81.7 869.8h0 M142 817.2h0 M150.4 816h0 M149 855h0 M95.7 890.7h0 M101.8 861.7h0 M120.3 877.1h0 M104.4 877.3h0 M70.2 885.9h0 M78.9 869.8h0 M91.3 883.6h0 M181.6 824.9h0 M131.9 844h0 M83.7 895.1h0 M154.5 812.7h0 M126.5 829.9h0 M56.1 907.8h0 M112.6 877h0 M114 889.9h0 M102.4 896.2h0 M108.6 881.7h0 M148.1 819.1h0 M149.2 842.7h0 M160.1 838.3h0 M122.8 879.8h0 M58 894.8h0 M134.3 857.1h0 M154.7 816h0 M144.9 834.3h0 M100.5 888.9h0 M180.8 836.1h0 M127.7 884h0 M59.5 895.8h0 M41.5 906.6h0 M103.5 847.3h0 M126.6 878.5h0 M109 890h0 M105 850.3h0 M161.2 820.7h0 M147.2 831.2h0 M85.1 880.4h0 M112.4 855.3h0 M94.2 899.4h0 M146 827.6h0 M102.4 853.5h0 M171.6 840.5h0 M40.1 908.5h0 M153.5 859.2h0 M138.4 877.7h0 M172 834.7h0 M114.9 857.1h0 M125.4 843.1h0 M74.2 888.4h0 M77.5 878.8h0 M110.5 876.2h0 M131.2 874.5h0 M111 883h0 M100.1 861.1h0 M114.1 834.4h0 M156.8 854.6h0 M118.7 829.4h0 M97.9 871.9h0 M139.6 870.5h0 M119.3 870.6h0 M167.6 854.6h0 M162.2 858.1h0 M182.4 830.2h0 M145 876.9h0 M89.9 895.7h0 M126.2 833h0 M146.2 820.7h0 M138.6 827.8h0 M91.5 886.1h0 M132.7 849.4h0 M48.4 900.7h0 M150.1 854.8h0 M104.1 861.1h0 M89.3 897.1h0 M80.1 876.2h0 M159.3 842.8h0 M145 825h0 M127.2 845.1h0 M149.7 824.7h0 M114.7 859.1h0 M172.7 855h0 M164.5 823.7h0 M141.2 813.9h0 M190.8 830.6h0 M164.7 789.4h0 M208.6 800.7h0 M164.8 808.5h0 M203.7 794.4h0 M156.7 806.6h0 M167.7 799.6h0 M185.1 807.5h0 M212.2 768.3h0 M207.2 822.3h0 M215 805.9h0 M208.6 797.7h0 M202.8 813.8h0 M203.8 776.5h0 M218.4 794.4h0 M180.7 800.4h0 M188.2 786h0 M168.3 778h0 M210.3 819.7h0 M184.9 799.8h0 M185.3 796.2h0 M201.6 790.9h0 M222.4 771.9h0 M210.4 795.4h0 M206.9 790.9h0 M165.1 776.9h0 M184.6 829.9h0 M194.2 811.5h0 M166.2 805.8h0 M204.2 819.1h0 M210.4 808.7h0 M217.4 794.8h0 M170.3 805.7h0 M200.5 811.1h0 M166.3 809h0 M203.1 827.8h0 M194.9 849.4h0 M210.8 824.1h0 M198.1 813.8h0 M193.4 820.5h0 M201 820.8h0 M227.1 793.7h0 M187.6 814.2h0 M225 807.8h0 M201.9 833.9h0 M195.9 807.1h0 M214.6 823.2h0 M174.3 805.6h0 M217.2 828.7h0 M206.1 811.8h0 M189.7 836.7h0 M195.7 803h0 M214.4 806.3h0 M222.8 818.3h0 M207.4 811.7h0 M225.5 792.2h0 M220.9 783h0 M198.3 818.4h0 M193.2 805.6h0 M219.2 810.9h0 M206.4 819.4h0 M206.7 805.8h0 M214.6 789.6h0 M183.8 798.2h0 M192.3 827.2h0 M187.3 797.4h0 M190.8 812.8h0 M212.1 796.9h0 M190 843.9h0 M204.9 792.4h0 M202 807h0 M210.7 808.1h0 M195.7 800.7h0 M213.8 817.5h0 M179.4 800.9h0 M130.4 864.7h0 M137 859.1h0 M91.4 872.3h0 M111.9 858.1h0 M140.2 854.1h0 M82.9 885.8h0 M70.7 888.9h0 M104.3 872.3h0 M126.5 868.9h0 M164.7 847.1h0 M94.5 877.4h0 M148.3 845.6h0 M141.2 845.9h0 M138.7 853.3h0 M111.3 861.5h0 M82.9 894.2h0 M103.8 866.3h0 M90 871.9h0 M122.1 864.1h0 M144.6 851h0 M163.3 849.3h0 M127.2 857.7h0 M90.3 875.7h0 M118.9 855h0 M132.4 864.9h0 M111 861.6h0 M162.7 847.7h0 M126.8 845.8h0 M140.7 853.6h0 M100.3 859.9h0 M134.6 848.9h0 M154.8 841.1h0 M135.3 843h0 M95 870.8h0 M78.2 887.9h0 M110.7 873.9h0 M131.7 837.8h0 M93.1 882.5h0 M110.1 854.8h0 M118.4 875.8h0 M132.3 847.2h0 M114.1 864.3h0 M119 868.2h0 M109.3 869.3h0 M132.3 856.3h0 M95 863.2h0 M119 855.1h0 M111.3 873.3h0 M133.7 858.3h0 M90 870.1h0 M105.9 852.5h0 M137.1 852.9h0 M184.9 821.3h0 M107.7 868.2h0 M83.5 890.5h0 M105.7 861.4h0 M129.7 860.3h0 M111 868h0 M87.1 877.1h0 M98.4 876.4h0 M113.6 867.6h0 M78.9 876.8h0 M113.4 855h0 M117.6 861.3h0 M61.5 892.7h0 M129.7 847.4h0 M150.1 860.8h0 M73.5 866.9h0 M125.1 855.3h0 M96.2 884.4h0 M107.7 855.3h0 M125.8 856.4h0 M163.3 847.7h0 M129.7 883.6h0 M154.7 850.8h0 M107.7 876.5h0 M105 883.1h0 M97.1 877.8h0 M121.8 855.5h0 M114.5 858.1h0 M90.1 885h0 M142.7 857.1h0 M111.7 870.2h0 M128 863.8h0 M144.3 839.3h0 M37 909.4h0 M96.8 883.6h0 M69.4 895.3h0 M121.5 870.1h0 M94.9 869.3h0 M92.6 873.8h0 M176.6 833.9h0 M112.5 876.5h0 M92.6 871.2h0 M99 889.9h0 M114.3 867.4h0 M124.3 865.6h0 M154.6 863.4h0 M113.8 866.8h0 M151.4 848.2h0 M132.7 853.9h0 M128.8 850.3h0 M147.4 865.2h0 M137.8 865.8h0 M109.2 880.5h0 M114.7 856.1h0 M86.3 887.4h0 M142.4 852.4h0 M169.4 839.7h0 M163.2 836.1h0 M138 838.9h0 M114.6 866.4h0 M100.6 878.9h0 M81.8 883.7h0 M68.2 885.5h0 M135.4 850.4h0 M97.4 871.5h0 M124.7 853.4h0 M119.4 871.2h0 M104.1 888.1h0 M93.5 901.1h0 M133.3 844.3h0 M136.7 845.1h0 M107.3 882.2h0 M120.4 854.4h0 M109.2 859.5h0 M113.9 865.7h0 M109.9 871.6h0 M133.1 848.9h0 M110.6 871.3h0 M146 854.9h0 M111.7 874.7h0 M87.6 876.1h0 M112.3 866h0 M129.7 863.2h0 M92.9 882h0 M72.8 884.3h0 M118.9 863.2h0 M155.4 841.2h0 M126.9 855.7h0 M138.5 852.7h0 M136.8 842.7h0 M85.4 874.4h0 M116.8 843.7h0 M117.6 877.2h0 M123.8 866.5h0 M101 877.2h0 M148.1 845.2h0 M122.3 852h0 M153.2 827.2h0 M90.9 879.4h0 M116.8 865.9h0 M94.5 885.3h0 M114.1 869h0 M69.1 881.3h0 M137.7 849.3h0 M119.1 865.2h0 M129.7 840.7h0 M97.9 864.8h0 M94.1 864.1h0 M109.1 872.2h0 M112.1 868.1h0 M108.1 855.3h0 M127.8 857.7h0 M121 846.7h0 M166.1 847h0 M83.6 872.6h0 M160.2 829.7h0 M128.9 847.5h0 M121 863.1h0 M134.6 872.7h0 M124.2 855.6h0 M137.4 852.1h0 M97 870.7h0 M152.1 834.3h0 M143 834h0 M147.3 854.3h0 M86 883.8h0 M137.9 851.3h0 M144.6 838.1h0 M127.5 855.6h0 M103.3 884.9h0 M175.1 842.4h0 M66.5 887.1h0 M91.7 878.3h0 M140.5 864.6h0 M163 852.6h0 M87.9 871.1h0 M82.1 879.5h0 M128.9 845.6h0 M111.8 871.6h0 M68.1 899.5h0 M88.9 884.6h0 M92.2 881.7h0 M88.8 876.4h0 M93.1 885.4h0 M157.6 843.4h0 M60 897h0 M148.9 850.2h0 M98.3 871.4h0 M115.6 862.2h0 M118.1 856.1h0 M159.4 845.9h0 M178.5 831.2h0 M107.8 881.6h0 M78.2 886.9h0 M87.6 877h0 M125.8 863.9h0 M101.5 886.6h0 M109.5 868.2h0 M110.3 866.2h0 M168.1 817.4h0 M133.9 856.1h0 M93 875.3h0 M96.9 862.8h0 M124.8 864h0 M127.5 842.7h0 M138.9 840.9h0 M130.3 862.6h0 M131.1 856h0 M127.5 847.8h0 M135.9 852.9h0 M128 852.2h0 M114.6 861.2h0 M149.9 854.4h0 M121.3 862h0 M128.9 849.3h0 M160.9 849h0 M146.7 833h0 M137.9 841h0 M118.6 864.8h0 M125.3 855.7h0 M159.1 838.3h0 M154.1 857h0 M68.8 887.9h0 M118.5 868h0 M85 870.5h0 M117.5 867.6h0 M82.7 867.5h0 M92 869h0 M122 853.2h0 M119.9 856.4h0 M143.3 837.6h0 M101.1 867h0 M121.5 868.8h0 M169.1 828h0 M150.2 845.4h0 M108.2 863.4h0 M143.6 847.5h0 M109.3 851.8h0 M144.6 840h0 M99 873.5h0 M142.9 854.9h0 M120.4 867.1h0 M62.4 895.8h0 M124.9 856.6h0 M130.2 843h0 M149.2 854.4h0 M121.6 859.8h0 M111.9 879.4h0 M176.9 841.8h0 M150.8 852.9h0 M121 848.3h0 M153.8 834.4h0 M133.6 863.3h0 M98.2 877.5h0 M80.3 881.7h0 M102.6 892.9h0 M118 849.5h0 M87.3 879.8h0 M123.1 865.3h0 M98.6 859.5h0 M86.4 888.4h0 M111.7 858.3h0 M126.4 847.5h0 M144.6 854.5h0 M131.3 858.2h0 M74.7 887.7h0 M132.7 852.7h0 M111.9 864.6h0 M109.1 871.8h0 M73.4 879.5h0 M145.4 848h0 M120.8 870.7h0 M144.2 847.6h0 M105.6 874.2h0 M96.6 865.4h0 M117.4 877.9h0 M151.7 863.7h0 M90.5 863.4h0 M133.7 849.6h0 M90.7 889.5h0 M157 842.6h0 M146.5 847h0 M122.1 862.3h0 M66.6 903.3h0 M74.5 885.1h0 M133 854.5h0 M124.7 866.3h0 M94.1 885.2h0 M96.1 859.7h0 M125 849.4h0 M115.5 863.3h0 M89.7 877.4h0 M69.4 886.7h0 M115.2 848.4h0 M97 896h0 M158.6 831.8h0 M93 883.2h0 M73.3 890.6h0 M74.8 898.6h0 M125.8 854h0 M151.4 851.5h0 M99.4 860.8h0 M117.7 858.2h0 M78.1 891.4h0 M154.3 853h0 M138.8 878h0 M142.6 844.4h0 M102.1 891.4h0 M136.2 853.2h0 M119.1 858.9h0 M114.5 864.4h0 M141 869.4h0 M97.5 873.5h0 M87.8 878h0 M179.1 819.4h0 M95.1 876.6h0 M103.2 871.6h0 M127.5 860.1h0 M139 855.5h0 M149.9 844.6h0 M118.2 865.1h0 M96.4 863.6h0 M118.8 851h0 M77.9 888.3h0 M149.5 851.8h0 M138.7 859.1h0 M145.2 870.4h0 M104 868.7h0 M104.1 878.3h0 M107.1 870.9h0 M153 847.6h0 M124.4 869.1h0 M117.5 874h0 M142.6 855h0 M111.3 880.9h0 M133.9 865.3h0 M124.8 856.9h0 M95.3 890.6h0 M112.2 868.8h0 M189.5 836.9h0 M140.3 851h0 M96.1 874.1h0 M132.9 852.8h0 M84.9 880h0 M106.7 869.9h0 M113.8 860.2h0 M125 867.9h0 M115.6 865h0 M121.9 861h0 M92.2 886.3h0 M105.7 877.3h0 M145.6 844h0 M69.7 898.6h0 M128.7 842.6h0 M150.2 866.6h0 M113.3 866.4h0 M118.9 860.1h0 M103 870.3h0 M125 854.3h0 M82.9 888.7h0 M89.4 879.1h0 M101.6 865.1h0 M126.9 864.6h0 M101.7 865h0 M88.1 890.4h0 M146.1 853.6h0 M88.6 889.3h0 M153.2 844.6h0 M117.3 870.2h0 M164.4 839.7h0 M108.7 882.4h0 M136.9 854.8h0 M137 864.5h0 M76.7 883.8h0 M163.9 843.8h0 M77.7 887.9h0 M104.4 868.6h0 M133.5 867.8h0 M87.6 880.9h0 M110 859.7h0 M169.7 831.4h0 M190.8 825.9h0 M166.4 834.8h0 M135.9 842.8h0 M82.9 879.4h0 M123.4 856.7h0 M153.2 850.4h0 M127.1 857.9h0 M69.6 906.3h0 M122.4 875.7h0 M135.3 851.8h0 M128.6 859.9h0 M145.2 844.5h0 M124.4 863.9h0 M152.6 842h0 M134.9 861.4h0 M113.5 870.3h0 M131.4 856.2h0 M108.4 851.6h0 M96 879.5h0 M88.5 877.8h0 M84.3 891.1h0 M149.4 845.4h0 M129.2 842.3h0 M137.6 847.4h0 M160.1 833.9h0 M115.8 865.2h0 M137.7 833.1h0 M22.9 926.6h0 M35.3 908.5h0 M44 904.5h0 M47.7 901.4h0 M52.2 913.9h0 M53.4 912.5h0 M54.7 905.9h0 M70.8 871.3h0 M77.5 868.6h0 M80.7 865.5h0 M87.4 862.5h0 M84.9 846.8h0 M86.2 850.8h0 M94.9 850h0 M94.9 855.4h0 M129.1 891.3h0 M115.2 893.4h0 M107.3 895.2h0 M153.9 877.4h0 M163.1 877.4h0 M166.8 874h0 M173.1 866.8h0 M161.5 707h0 M239.8 722.3h0 M241.8 725.4h0 M283.6 722h0 M185.5 732h0 M244.2 733.9h0 M264.3 737.6h0 M182 742.3h0 M257.9 745.8h0 M190.7 752h0 M192.2 755.2h0 M204.5 751.4h0 M206.8 753h0 M215.5 751.7h0 M140.5 756.4h0 M236.9 756.4h0 M213.2 759.9h0 M220.5 759.2h0 M252.9 759.9h0 M258.5 758.3h0 M175.8 761.7h0 M265.2 767h0 M267.5 769.6h0 M256.4 769.6h0 M195.1 766.1h0 M190.7 769.6h0 M163.9 771.7h0 M255 776.4h0 M268.1 777.4h0 M219.1 772.4h0 M204.5 774.9h0 M215.5 777.1h0 M243.3 779.6h0 M206.8 779.6h0 M214.1 781.1h0 M148.4 778.6h0 M152.2 777.7h0 M165.3 778.9h0 M174.7 778h0 M182.8 777.4h0 M187.8 779.6h0 M190.7 781.1h0 M226.4 785.2h0 M233.1 783.9h0 M239.8 783.6h0 M157.7 785.2h0 M156.6 788.9h0 M168.8 787.7h0 M177.6 786.4h0 M144.6 788.9h0 M106.6 793.3h0 M284.7 790.8h0 M125.9 795.8h0 M138.2 794.3h0 M150.4 794h0 M156.6 796.8h0 M173.2 791.4h0 M188.1 793.6h0 M197.2 792.7h0 M208.2 791.4h0 M210.3 793.3h0 M216.1 788h0 M219.9 796.8h0 M227.2 799.9h0 M231 804.6h0 M231.9 807.1h0 M96.4 806.2h0 M117.2 810.2h0 M102.6 816.5h0 M106.6 814.6h0 M230.1 824.3h0 M233.4 826.5h0 M218.5 824.9h0 M214.1 835.2h0 M215.5 841.5h0 M206.8 840.6h0 M205.3 846.8h0 M195.1 845.9h0 M197.4 851.5h0 M189.3 854h0 M180.5 859.3h0 M179.1 865.6h0 M173.2 866.5h0 M167.4 874.3h0 M161.5 876.5h0 M153.6 877.5h0 M145.5 875h0 M138.2 881.2h0 M135.3 883.4h0 M128.8 891.6h0 M115.7 892.8h0 M107.5 895.9h0 M95.8 892.2h0 M310 752.9h0 M310.7 761.1h0 M300.6 771.1h0 M321.3 782.7h0 M284.8 790.6h0" fill="none" stroke="#1f77b4" stroke-width="4.50" stroke-linecap="round"/></g>
<path d="M22.5 856.3L321.4 632.7" stroke="#ff7f0e" stroke-width="0.80" fill="none"/>
<path d="M8.2 620.7H336.7" stroke="#aaa" stroke-width="1.00"/>
<path d="M336.4 620.4V877.9" stroke="#999" stroke-width="0.90"/>
<path d="M8.2 877.6H336.7" stroke="#aaa" stroke-width="1.00"/>
<path d="M8.5 620.4V877.9" stroke="#999" stroke-width="0.90"/>
<path d="M8.5 866.2h-1.8M8.5 814.2h-1.8M8.5 762.2h-1.8M8.5 710.2h-1.8M8.5 658.2h-1.8M9.3 877.6v1.8M78.8 877.6v1.8M148.3 877.6v1.8M217.8 877.6v1.8M287.3 877.6v1.8" stroke="#333" stroke-width="0.5" fill="none"/>
<g font-family="'DejaVu Sans','Liberation Sans',sans-serif" font-size="5.30" fill="#111"><text transform="translate(4.0,868.7) scale(1,1.300)" text-anchor="end">2</text><text transform="translate(4.0,816.7) scale(1,1.300)" text-anchor="end">3</text><text transform="translate(4.0,764.7) scale(1,1.300)" text-anchor="end">4</text><text transform="translate(4.0,712.7) scale(1,1.300)" text-anchor="end">5</text><text transform="translate(4.0,660.7) scale(1,1.300)" text-anchor="end">6</text><text transform="translate(9.3,885.5) scale(1,1.300)" text-anchor="middle">2</text><text transform="translate(78.8,885.5) scale(1,1.300)" text-anchor="middle">3</text><text transform="translate(148.3,885.5) scale(1,1.300)" text-anchor="middle">4</text><text transform="translate(217.8,885.5) scale(1,1.300)" text-anchor="middle">5</text><text transform="translate(287.3,885.5) scale(1,1.300)" text-anchor="middle">6</text></g></g>
<g id="p5"><g transform="scale(1,0.9318)"><path d="M445.5 884.9h0 M464 876h0 M443.1 899.5h0 M496.6 856.8h0 M476.8 860.3h0 M446.6 901h0 M489.6 874.8h0 M437.3 880.7h0 M501.3 879h0 M437.3 897.6h0 M500.7 843h0 M514.4 875.3h0 M504.8 884.3h0 M510.2 871.8h0 M510.6 842.2h0 M475.4 890.4h0 M515.1 862.7h0 M481 856.5h0 M411.3 904.3h0 M418.4 893.9h0 M490.3 884h0 M449.9 883.9h0 M504 868h0 M444.8 887.9h0 M425.7 890.9h0 M504.4 854.9h0 M479.5 856.1h0 M516.2 838.1h0 M500.5 852.5h0 M483.6 887.4h0 M486.1 882.8h0 M450.9 882.4h0 M463.9 866.9h0 M481 883h0 M509.2 836.2h0 M473.3 855.1h0 M474.4 878.3h0 M501.8 842.7h0 M473.9 865.9h0 M467.6 859.3h0 M412.4 908.7h0 M458.7 875.3h0 M466.6 879.5h0 M518.8 864.3h0 M472.5 884.1h0 M476.9 874.4h0 M506.7 848.9h0 M445.8 888.5h0 M478.9 865.7h0 M506.9 878.5h0 M490.9 850.2h0 M510.1 866.8h0 M459.2 871h0 M515.3 851.3h0 M506.3 858.3h0 M459.2 862.7h0 M451.8 877.2h0 M479.2 857.1h0 M454.8 882.3h0 M524.4 838.4h0 M494 845.7h0 M512 842.9h0 M503.5 881.4h0 M461.9 873.2h0 M418.7 890.3h0 M463.7 881.8h0 M448.7 895.9h0 M479.9 868.7h0 M502 875.2h0 M470.8 880.3h0 M468.3 864.2h0 M492.7 868.5h0 M426.3 903.3h0 M450.2 893.5h0 M507.2 832.5h0 M513.5 841.2h0 M461.7 890.6h0 M477.3 890.6h0 M463.8 866.2h0 M443.9 886h0 M461.2 897h0 M468.9 895.9h0 M474.8 893.3h0 M502.1 878.4h0 M410.2 905.9h0 M487.9 848.2h0 M513.5 843.7h0 M470.3 866h0 M453.7 903.3h0 M429.6 886.8h0 M471.4 892.5h0 M518.7 833.7h0 M462.4 885.1h0 M412.2 909.1h0 M463.6 857.5h0 M462.8 897.4h0 M513 828.5h0 M520.6 845.7h0 M514.9 832.8h0 M472.4 891.3h0 M484.1 874.7h0 M411.4 911h0 M434.7 905.8h0 M504.2 845.1h0 M479.9 861.2h0 M488.3 870.6h0 M512.3 880.6h0 M512.1 856.8h0 M428.4 901.5h0 M473.6 874.2h0 M448.7 881.2h0 M453.1 883.8h0 M456.6 898.2h0 M507.2 878.5h0 M463.9 875.7h0 M453.2 878.2h0 M508.1 842.8h0 M471.2 893.5h0 M472.1 868.3h0 M499.1 835.5h0 M482.6 871.3h0 M420 900.1h0 M510.9 868.8h0 M458.8 874.2h0 M463.7 867.6h0 M510.1 840.6h0 M465.7 893.3h0 M418 905.6h0 M417.5 898h0 M417.8 905.6h0 M464.6 867.8h0 M426.6 907.6h0 M499.2 877.5h0 M461.6 859.7h0 M487.4 880.5h0 M477.1 877h0 M478.9 868.3h0 M516.6 836.7h0 M519.9 855.5h0 M424.6 891.8h0 M495.8 883.2h0 M417 911.9h0 M511.5 865.3h0 M420.4 901.9h0 M500.8 872.2h0 M423.6 895.9h0 M454.8 893.7h0 M482 878.8h0 M510.2 874.7h0 M514.1 866.1h0 M506.1 866.6h0 M442.4 904.9h0 M428.6 910h0 M498.5 848.9h0 M438.2 897.4h0 M513.2 843.7h0 M414.4 905.6h0 M464.9 864.4h0 M505.4 883.6h0 M512.7 858.1h0 M502.2 861.6h0 M481.7 856.4h0 M468.2 881.3h0 M484.8 868.6h0 M469.4 874.4h0 M486 875.6h0 M500.5 882.2h0 M414 904.7h0 M425.9 891.4h0 M508.6 877.5h0 M484.2 877.3h0 M456.3 881.1h0 M453.3 887.2h0 M409.2 910.1h0 M482.9 868.4h0 M490.8 887.7h0 M517.6 867.2h0 M423.8 907.7h0 M475 867.1h0 M510.5 866.9h0 M446.3 888.2h0 M450.1 880.8h0 M470.5 875h0 M493.7 864.1h0 M451.2 871.1h0 M468.2 877.3h0 M514.7 857h0 M451.6 868.4h0 M509.3 867.1h0 M503.7 855.9h0 M490.9 874.2h0 M504.1 842.8h0 M447.5 877.1h0 M499.1 853.6h0 M447.5 873.3h0 M429.1 886.8h0 M427.1 908.5h0 M485.9 877h0 M465.5 882.7h0 M454.5 870.3h0 M477.6 856.8h0 M460.4 866.8h0 M485.6 867.4h0 M512.9 836.4h0 M492.6 868h0 M487.7 867.8h0 M477.2 889.5h0 M466.9 887.7h0 M422.5 889h0 M463.3 862.5h0 M481.2 869.7h0 M505.1 853.8h0 M489.3 882.9h0 M487.9 860.3h0 M462.2 889.1h0 M511.3 877.7h0 M464.4 859.4h0 M517 863.9h0 M513.5 860.2h0 M492.2 848.1h0 M420.5 901.6h0 M476.7 878.8h0 M486.4 888h0 M430.7 890.9h0 M468.5 879.2h0 M452.6 897.3h0 M480.5 872.2h0 M498.4 863.2h0 M459 886.4h0 M430.8 891.2h0 M468.1 896.7h0 M453.8 872.2h0 M422.5 903.7h0 M484.5 853.8h0 M436.7 881.2h0 M498.7 858.8h0 M445.5 892.8h0 M446.2 894h0 M479.8 874.8h0 M483.8 861.6h0 M486.6 862h0 M426 910.3h0 M427 906.4h0 M472.2 882.8h0 M510.2 866.5h0 M518.8 839h0 M511.6 852.5h0 M501.1 837.7h0 M490.9 846.1h0 M480.8 887.4h0 M433.4 892.3h0 M504.4 860h0 M477.8 876.4h0 M505.6 839.5h0 M468.5 871.5h0 M467.8 897.1h0 M512.2 843h0 M442.5 892.1h0 M427.1 884.5h0 M483.4 877.6h0 M446.9 891.7h0 M480 852.7h0 M455.2 898h0 M513 871h0 M492 866.8h0 M520.9 836.7h0 M518.2 854.6h0 M500.3 840.6h0 M454.5 868h0 M415.8 898.8h0 M462.7 875.9h0 M472 856.7h0 M488 872.8h0 M521.4 849.7h0 M457.4 894.8h0 M462.3 878h0 M505.5 857.3h0 M440.5 882.8h0 M417.3 908.1h0 M462 861.8h0 M476.3 892.2h0 M462 862.8h0 M503.8 864.2h0 M520 845.3h0 M473.3 856.6h0 M491.5 844.4h0 M465.8 885.7h0 M508.5 856.7h0 M520 864.3h0 M508.7 834.2h0 M486.9 864.6h0 M483.1 855.7h0 M459.1 890h0 M502.9 849.6h0 M453 866.9h0 M511.7 870.1h0 M475.5 893.9h0 M419.3 910.7h0 M473.5 866.7h0 M420.2 895.7h0 M474.7 889.8h0 M455.8 899.4h0 M470.1 857.2h0 M516.8 861.6h0 M506.2 874.8h0 M456 882.6h0 M441.4 877.7h0 M440.3 904.7h0 M503.5 857.2h0 M496.5 849.6h0 M510.6 848.7h0 M518.3 850.8h0 M477.6 889.2h0 M467.8 854.2h0 M423.8 898.6h0 M455.6 870.1h0 M451.4 866.7h0 M499.3 864h0 M500.3 864.9h0 M515.6 854.5h0 M431.4 893.1h0 M476.9 887.2h0 M426.5 891.5h0 M446.6 882.8h0 M520.1 835.2h0 M415.6 904.2h0 M410.7 904h0 M426.8 887.5h0 M503.1 852.2h0 M409.1 909.3h0 M498.2 854.3h0 M450.2 894.1h0 M449.8 869.9h0 M483 875.9h0 M463.2 889.8h0 M492 856.6h0 M431.4 885.1h0 M461.6 882.5h0 M457.1 890h0 M431.8 894.7h0 M439.9 886.9h0 M500.5 875.2h0 M499.5 851.7h0 M425.6 903.7h0 M494.6 871.4h0 M485 868.1h0 M459.9 901.4h0 M474.7 896.2h0 M480.4 862.8h0 M506.6 856.6h0 M460.6 892.5h0 M460.8 875.4h0 M437.2 896.9h0 M515.8 835.7h0 M425.5 900.4h0 M465.1 878.9h0 M450 880.8h0 M487.6 864.1h0 M443.2 880.4h0 M484.6 853h0 M441.3 888h0 M498.1 856.5h0 M519.2 841.9h0 M470.2 895.9h0 M490.2 853.2h0 M475.1 882.6h0 M495 874.7h0 M511.7 867.7h0 M486.5 857.9h0 M479 859.6h0 M426.5 892h0 M470.8 885.8h0 M465.5 885.1h0 M489.9 886.1h0 M521.9 840.9h0 M458.9 867.4h0 M495.4 864.3h0 M497 846.9h0 M470.5 882.5h0 M513 847.8h0 M500 878.5h0 M435 880.4h0 M460.5 873h0 M469.2 855.6h0 M496.6 869.3h0 M501.1 867.1h0 M443.1 875.4h0 M466 862.3h0 M481 888.6h0 M433.2 903.5h0 M470.9 863.1h0 M469 863.8h0 M477.3 891.8h0 M472.8 888.7h0 M429 888.3h0 M510.6 849.8h0 M513.8 854.2h0 M429.3 904.3h0 M519.5 841.7h0 M498.6 844.8h0 M493.3 842.2h0 M442.1 898.3h0 M434.9 887.5h0 M517.1 833.4h0 M499.9 869h0 M411.6 916.9h0 M450.9 880.9h0 M457.9 872.8h0 M511.4 857.7h0 M506.5 861.8h0 M491.9 886.6h0 M473.6 874.3h0 M426.7 904.9h0 M485.3 882.2h0 M417.8 909.9h0 M453.2 893.8h0 M459.1 884.7h0 M478.4 863.5h0 M467.2 866.4h0 M469.1 873.1h0 M516.1 837.3h0 M485.7 853h0 M503.8 866.8h0 M504.5 861.9h0 M458.4 869.5h0 M492.7 857.1h0 M519 862.7h0 M497.2 846.6h0 M484.6 861.4h0 M450.7 871.9h0 M448.9 893.3h0 M518.7 844.8h0 M498.5 858h0 M444.9 884.2h0 M447.9 893.4h0 M436.1 895.8h0 M516.8 833.8h0 M466.7 883.8h0 M512.7 837.8h0 M504.7 853h0 M493 847.7h0 M480.2 857.6h0 M463.4 883.1h0 M465.3 875.8h0 M501.1 847.3h0 M477 876.3h0 M486.6 860.1h0 M475.3 878.9h0 M497.6 865.1h0 M496.7 841.4h0 M439.6 876.6h0 M480.2 856.7h0 M433.8 879.1h0 M419.4 892.9h0 M462.6 868.5h0 M430.5 905.2h0 M520 848.5h0 M494.5 877.7h0 M442.6 899.5h0 M500 870.5h0 M456.6 863.5h0 M449.5 891.2h0 M520.6 858.8h0 M495.6 880.7h0 M477.7 884.6h0 M515.5 867.2h0 M498.8 869.1h0 M466.6 856.1h0 M507.3 839.7h0 M455.8 888.6h0 M496.9 881.1h0 M438.5 881.6h0 M418.9 899h0 M512.6 858.1h0 M436.4 887.6h0 M447.7 903h0 M500.5 861.6h0 M466 868.8h0 M449.7 887.7h0 M446.9 890.8h0 M488.8 879.3h0 M435.8 901h0 M416.2 900.2h0 M480 891.3h0 M434.7 905.9h0 M482.2 883.7h0 M512.1 871.3h0 M510.2 839.5h0 M452.4 871.5h0 M515.7 855.7h0 M498.5 848.4h0 M447.2 888.9h0 M495.2 870h0 M423.1 908.5h0 M515.7 868.3h0 M485.2 885.3h0 M454.3 871.7h0 M459.4 894.4h0 M519.6 852.9h0 M507.1 832.2h0 M459.4 874.2h0 M490.7 873h0 M486.1 848.2h0 M437.4 903h0 M473.6 857.2h0 M483.9 851.1h0 M501.5 857.7h0 M478.2 872.9h0 M491.8 881.1h0 M458.4 883.9h0 M477.6 863h0 M428.3 907.3h0 M508.7 839.4h0 M445.7 898.3h0 M474.2 881.4h0 M490.9 861.1h0 M487.6 860.3h0 M471.1 855.6h0 M515.8 848.9h0 M473.9 852.8h0 M441.4 905.7h0 M479 857.4h0 M439.3 887.3h0 M498.1 869.4h0 M455.3 893.1h0 M413.1 900.5h0 M421.4 891.1h0 M475.2 880.6h0 M508.2 860.3h0 M501.4 848.8h0 M417.4 912.2h0 M486.5 879.6h0 M422.6 911.3h0 M423.7 910.6h0 M516.3 848.4h0 M430.2 884.3h0 M508 838.5h0 M497.6 868.2h0 M421.6 893.1h0 M507.2 861.3h0 M533.7 816.6h0 M550.1 825.9h0 M544.8 817.3h0 M537.2 835.4h0 M542.8 839.8h0 M551.5 832.8h0 M542.4 832.5h0 M542.8 816.2h0 M544.9 835.9h0 M529.2 861.9h0 M531.4 822.7h0 M528.4 859.9h0 M528.4 855.1h0 M548.3 826.9h0 M537.8 850h0 M542.5 855.2h0 M529.9 861.9h0 M542.1 824.8h0 M529.3 843.6h0 M532.9 864.2h0 M542.6 846.9h0 M547.3 810.4h0 M543.5 842.1h0 M537.9 832.2h0 M535.5 861.3h0 M544.5 853.4h0 M528.3 845.9h0 M526.3 833.9h0 M534.4 837.1h0 M549.4 854.3h0 M525 842.4h0 M538.3 864.4h0 M546.7 824.9h0 M532.3 865.1h0 M533.4 816.8h0 M546.2 812h0 M544.4 830.8h0 M525.6 865.7h0 M539.5 835.9h0 M546.2 838.8h0 M541.7 818.6h0 M537.7 839.6h0 M522.4 868.5h0 M522.4 829.9h0 M557.2 827.8h0 M547.5 842.3h0 M522.6 860.5h0 M535 851.2h0 M545.7 815.5h0 M547.3 820.5h0 M532.8 862.2h0 M523.5 855.7h0 M516.8 828.3h0 M550.5 839.4h0 M527.5 828.3h0 M546 843.8h0 M532.1 827.3h0 M531.9 818.9h0 M535.3 836.8h0 M550.2 853.9h0 M540.4 833.1h0 M553.8 830.4h0 M527.5 827h0 M549.3 851h0 M528 858h0 M553.4 829.7h0 M537.8 828.3h0 M543 820.3h0 M548.8 849.1h0 M521.3 832.6h0 M536.1 850.8h0 M547.2 848.8h0 M544.7 817h0 M526.3 861.6h0 M522.9 857.5h0 M492 831h0 M464 853.6h0 M452.7 854.6h0 M478.5 834h0 M457.7 856.9h0 M471 838.1h0 M445.7 868.3h0 M478.7 834.1h0 M486.6 841.1h0 M497.9 834.1h0 M474.1 848.3h0 M473.3 848.5h0 M428.6 875.6h0 M450.9 850.8h0 M514.6 819.5h0 M484.9 835.5h0 M467.1 844.5h0 M460.2 847.5h0 M460.7 854.6h0 M473.8 851.9h0 M475 848.3h0 M484.6 837.8h0 M471.8 844.8h0 M469.5 842.5h0 M508 822h0 M479.5 842.1h0 M473.7 836.2h0 M431 875.6h0 M470.4 845.5h0 M429.7 874.8h0 M459.5 854.1h0 M449.2 866.2h0 M452.2 850.6h0 M511 818.2h0 M498.2 836.5h0 M460.1 854.3h0 M474.9 838.9h0 M439 862.8h0 M455.5 855.6h0 M434.3 869.2h0 M504.3 819.9h0 M497.5 823.1h0 M500.3 825.5h0 M447.2 865.1h0 M458.5 848.8h0 M490.3 837.8h0 M427.7 875h0 M459.5 848.2h0 M464.9 849.9h0 M511.7 820.2h0 M514.8 815.7h0 M479.5 838.4h0 M448.5 860.4h0 M467.9 850.3h0 M492.2 828.3h0 M450.6 878.4h0 M414.8 901.8h0 M509.6 857.2h0 M457.6 876.6h0 M475.3 869.1h0 M490.2 866.7h0 M447.8 880.6h0 M541.9 837.4h0 M480.2 856.9h0 M454.7 870h0 M488.1 855.8h0 M511 853.2h0 M444.4 903.6h0 M451.5 877h0 M473 875.1h0 M409 896.9h0 M452.7 894.2h0 M479.5 855.8h0 M438.6 889.7h0 M492.2 854.4h0 M450.8 888.1h0 M426 891.6h0 M459.4 864.6h0 M437.6 890.8h0 M478.3 851.2h0 M451.9 877.5h0 M509 850h0 M495.9 860.2h0 M452.8 869.2h0 M489.6 847.6h0 M474 878.5h0 M428.9 892.4h0 M460.1 890h0 M430.9 899.6h0 M448.5 877.9h0 M483.9 861.5h0 M485.1 872.9h0 M488.6 872.7h0 M527 829.1h0 M484 871.3h0 M464.5 854.7h0 M473.7 880h0 M460.9 879.3h0 M470.3 864.1h0 M426.7 896h0 M410.1 904.3h0 M457.7 888.1h0 M476.7 858.7h0 M426.4 884.2h0 M494.8 863.5h0 M453 880.6h0 M487 856.6h0 M434 892.2h0 M453.2 889.6h0 M468.7 847.1h0 M509 864.2h0 M484.1 858.2h0 M464.7 884.5h0 M522.8 846.1h0 M481.2 865.4h0 M470.2 886.4h0 M485 859.4h0 M482.9 858.5h0 M457.2 887.1h0 M461.4 871.5h0 M428.4 894.4h0 M465 873h0 M521.8 848h0 M480.5 865.6h0 M443.7 880.6h0 M413.1 898.3h0 M494.6 870.3h0 M436 887.8h0 M553.6 829.5h0 M499.4 870.4h0 M480.8 861.3h0 M451.3 877h0 M470.8 863.8h0 M460.8 865.6h0 M458.3 886.5h0 M485.4 868.3h0 M491.5 869.7h0 M440.5 895.6h0 M426.5 906.4h0 M458.9 879.8h0 M424.9 893.7h0 M461.9 875.7h0 M449.4 885.3h0 M481.4 864.9h0 M437.8 879.2h0 M488.9 877.4h0 M470.4 875.3h0 M477.5 874.1h0 M486.5 850.9h0 M540.1 845.3h0 M500.7 854.1h0 M451.2 879.4h0 M496.9 873.2h0 M443.1 874.2h0 M436.9 886.9h0 M413.4 908.4h0 M496.8 861.3h0 M446.8 893.1h0 M461.9 871.6h0 M487.1 847.8h0 M480.5 874.9h0 M465.1 870h0 M505.2 855.4h0 M464.7 863.5h0 M486.5 873.4h0 M463.4 864.5h0 M446.7 871.2h0 M462.4 886h0 M447.6 882.5h0 M463.1 872.6h0 M476.8 868.9h0 M445.4 900.6h0 M464.4 871.8h0 M437.6 895h0 M449.3 876.3h0 M430.3 889.5h0 M488.6 865.6h0 M458.5 877.1h0 M455.6 877.3h0 M468.4 864.8h0 M476.7 865.4h0 M500.1 861.1h0 M443.5 884.6h0 M464.3 871h0 M415.8 894.7h0 M452.8 881.6h0 M438 899h0 M495.3 860h0 M502.8 845.4h0 M515.7 838.7h0 M483.9 857.4h0 M444.4 900.1h0 M485.6 861.7h0 M502.6 845.4h0 M465.8 883.1h0 M465.8 887.1h0 M451.4 885.9h0 M477.9 881.8h0 M476.1 865.3h0 M458.3 873.3h0 M529.1 834.1h0 M455.3 881.7h0 M457.5 885.1h0 M488.6 865.4h0 M467.4 860.2h0 M466.1 857.3h0 M403.2 904.2h0 M493.3 861.9h0 M418.9 896.7h0 M504.2 845.5h0 M451.5 879.2h0 M425.4 892.9h0 M473.2 862.4h0 M438.7 884.9h0 M488.3 853.6h0 M532 849h0 M454.2 880.5h0 M453.3 885.5h0 M476.8 871.9h0 M469.4 862.7h0 M477.2 863.4h0 M444.6 875.8h0 M424.9 898.2h0 M455.5 862.2h0 M467.9 875.7h0 M477.9 866.3h0 M486.9 873.6h0 M506.8 842.3h0 M484.6 861.2h0 M425.7 902h0 M466.9 876.8h0 M446.1 896.6h0 M457.7 873.8h0 M482.4 861.2h0 M499.7 864.8h0 M463.1 868.6h0 M451.2 874.8h0 M512.1 854.9h0 M460.8 876h0 M446 880h0 M465.7 873.1h0 M461.4 882h0 M426.6 900.2h0 M444.3 899.6h0 M433.8 898.1h0 M501.1 863.6h0 M468.7 883.5h0 M452.2 887h0 M467.3 867.2h0 M457.3 879.5h0 M500.6 870.7h0 M434.1 890.5h0 M451.1 874.3h0 M467.6 870.5h0 M452.5 867.5h0 M479.4 867.8h0 M488.8 847.7h0 M506.2 864.3h0 M435.7 900.6h0 M468.3 864.6h0 M460.2 873.3h0 M505.4 859.7h0 M507.2 849.1h0 M473.9 875.2h0 M489.2 851.3h0 M417.4 898.3h0 M461.7 882h0 M482.1 867.9h0 M510.9 847.1h0 M501.7 846.3h0 M449.4 899.8h0 M451.5 883.5h0 M426.9 910.4h0 M404.9 895.5h0 M450.2 878h0 M497 853h0 M490.9 862.8h0 M479 864.9h0 M460.8 870.1h0 M426.5 884.6h0 M517.5 859.5h0 M433.8 904.1h0 M480.5 863.8h0 M481 870.6h0 M415.3 904.2h0 M483 870.5h0 M479.9 865.3h0 M442 889.1h0 M428.4 890.4h0 M411.2 895.3h0 M461.8 865.9h0 M442.1 897.1h0 M436.8 887.1h0 M437.8 895.8h0 M444.1 876.7h0 M482.4 852.8h0 M477.5 855.6h0 M429.8 885.2h0 M501.5 851.7h0 M423.4 896.8h0 M469.7 867.7h0 M484.3 875.4h0 M482.2 861.3h0 M450.9 881.9h0 M429.3 887.3h0 M491.5 850.6h0 M413.6 902.9h0 M451.1 881.3h0 M487.8 854.8h0 M492.1 862.4h0 M450.2 859.5h0 M457.4 889.9h0 M495.9 858.4h0 M464.2 869.1h0 M426.8 893h0 M465.6 884.1h0 M442.3 892.5h0 M411.1 898.2h0 M448.3 882.2h0 M447.7 883.5h0 M468 858h0 M469.2 854.7h0 M514.3 845.7h0 M438.6 885.2h0 M442.6 888.2h0 M521.5 848.2h0 M482 868.6h0 M436 896.1h0 M475.6 870.3h0 M437.5 901.4h0 M477 868.3h0 M481.5 871.6h0 M464.8 856.3h0 M433.5 897h0 M487.7 857.7h0 M445.1 880.4h0 M452.5 891.6h0 M490.6 854.1h0 M439.4 895.3h0 M439.6 895.1h0 M452.3 868.4h0 M407.9 914.2h0 M441.1 878.4h0 M471.8 865.4h0 M524.2 848.4h0 M477.7 859.2h0 M452.1 883.7h0 M455.1 875.8h0 M422.3 900.3h0 M488.6 860.6h0 M457.2 873.8h0 M506 849.6h0 M491.6 853.2h0 M484.6 860.9h0 M475.8 872.5h0 M485.1 852.5h0 M514.6 847.9h0 M489.6 862.9h0 M471.5 876h0 M464.4 873.6h0 M516.5 848.2h0 M458.6 871h0 M456.9 877.1h0 M532.1 840.9h0 M459 883h0 M464.9 881h0 M448.5 898.2h0 M497.2 857.7h0 M465.1 865.5h0 M443.3 876.1h0 M479.5 852.2h0 M482.4 864.1h0 M463.4 877.6h0 M495 866.6h0 M506.9 848.5h0 M441 884.8h0 M468.8 856.3h0 M495.7 855h0 M450.7 867.5h0 M466.5 877.7h0 M377.5 930.9h0 M387.9 933.1h0 M387.8 932.9h0 M383.6 920.7h0 M386.6 915.3h0 M389.8 911.3h0 M399.7 915.9h0 M400.7 901.5h0 M406.9 924.9h0 M413.9 923.1h0 M410.7 894.8h0 M420.6 867.4h0 M425.5 871.1h0 M433.2 843.4h0 M445.7 849.5h0 M442.7 813.1h0 M462 829.3h0 M471 834.9h0 M475.4 834.9h0 M489.1 814.4h0 M494.5 813.3h0 M499.5 811.5h0 M460.5 846.6h0 M466.7 844h0 M483.9 898.6h0 M466.7 902h0 M461 904.2h0 M452.8 909.2h0 M440.7 912.1h0 M511.4 888.2h0 M597.8 688.6h0 M570.5 701.3h0 M669.6 720.7h0 M534 721.9h0 M556.2 721.3h0 M629.1 730.6h0 M532.4 742.5h0 M539.4 741.3h0 M610.2 745.9h0 M630.2 749.1h0 M607.5 751.7h0 M530.5 760.7h0 M591.8 766.2h0 M567.5 767.4h0 M560.8 769.7h0 M550 771.2h0 M621.3 774.6h0 M559.4 776.7h0 M563.2 775.5h0 M567 778.4h0 M518.1 780.7h0 M554.6 785.4h0 M548.6 787.1h0 M585.6 785.4h0 M597.2 787.1h0 M564 788.3h0 M573.7 787.7h0 M541.9 790h0 M568.3 792h0 M602.1 792.6h0 M603.4 792.6h0 M546.4 794.1h0 M547.5 797.2h0 M526.7 796.9h0 M616.7 798.1h0 M632.9 797.5h0 M541.9 798.4h0 M569.7 797.8h0 M569.7 800.7h0 M504.6 802.5h0 M514.9 803h0 M542.4 802.2h0 M549.4 803h0 M544 805.4h0 M556.2 804.5h0 M587.5 801.6h0 M508.1 809.4h0 M561.3 808h0 M533.8 814.3h0 M540.5 814.3h0 M544 812.3h0 M551.3 812.3h0 M551.8 816.1h0 M524.8 815.2h0 M521.1 819.6h0 M512.2 821h0 M547.8 820.1h0 M540.5 818.1h0 M559.4 821h0 M582.4 820.1h0 M587 818.7h0 M597.2 818.7h0 M599.9 821.9h0 M651.8 817.2h0 M641 827.1h0 M528.4 824.8h0 M534.3 825.9h0 M548.6 824.5h0 M550.8 826.5h0 M554.8 825.9h0 M557.3 824.5h0 M570.8 826.2h0 M572.4 824.5h0 M589.9 825.6h0 M594.5 827.4h0 M586.4 828.8h0 M593.7 831.7h0 M599.9 835.8h0 M538.6 827.7h0 M543.2 828.8h0 M548.1 834.6h0 M561.6 839.3h0 M564.8 843.3h0 M571.6 841.9h0 M578.3 840.1h0 M581.8 839.3h0 M588.6 843.9h0 M582.6 845.1h0 M558.1 845.6h0 M563.5 850h0 M570.2 851.4h0 M561.6 853.8h0 M549.4 845.1h0 M548.6 855.8h0 M541.9 863h0 M540 866.2h0 M581 873.7h0 M552.1 879.8h0 M524.8 876.6h0 M510.8 889.1h0" fill="none" stroke="#1f77b4" stroke-width="4.40" stroke-linecap="round"/></g>
<path d="M376.2 854.5L670.0 682.5" stroke="#ff7f0e" stroke-width="0.80" fill="none"/>
<path d="M362.2 630.1H684.8" stroke="#c4c4c4" stroke-width="1.10"/>
<path d="M684.5 629.8V881.6" stroke="#777" stroke-width="1.00"/>
<path d="M362.2 881.3H684.8" stroke="#888" stroke-width="0.90"/>
<path d="M362.5 629.8V881.6" stroke="#505050" stroke-width="0.90"/>
<path d="M362.5 836.7h-1.8M362.5 787.2h-1.8M362.5 737.6h-1.8M362.5 688.1h-1.8M362.5 638.5h-1.8M364.4 881.3v1.8M406.7 881.3v1.8M449.0 881.3v1.8M491.3 881.3v1.8M533.6 881.3v1.8M575.9 881.3v1.8M618.2 881.3v1.8M660.5 881.3v1.8" stroke="#333" stroke-width="0.5" fill="none"/>
<g font-family="'DejaVu Sans','Liberation Sans',sans-serif" font-size="5.50" fill="#111"><text transform="translate(358.1,839.4) scale(1,1.350)" text-anchor="end">1.5</text><text transform="translate(358.1,789.9) scale(1,1.350)" text-anchor="end">2.0</text><text transform="translate(358.1,740.3) scale(1,1.350)" text-anchor="end">2.5</text><text transform="translate(358.1,690.8) scale(1,1.350)" text-anchor="end">3.0</text><text transform="translate(358.1,641.2) scale(1,1.350)" text-anchor="end">3.5</text><text transform="translate(364.4,890.0) scale(1,1.350)" text-anchor="middle">1.25</text><text transform="translate(406.7,890.0) scale(1,1.350)" text-anchor="middle">1.50</text><text transform="translate(449.0,890.0) scale(1,1.350)" text-anchor="middle">1.75</text><text transform="translate(491.3,890.0) scale(1,1.350)" text-anchor="middle">2.00</text><text transform="translate(533.6,890.0) scale(1,1.350)" text-anchor="middle">2.25</text><text transform="translate(575.9,890.0) scale(1,1.350)" text-anchor="middle">2.50</text><text transform="translate(618.2,890.0) scale(1,1.350)" text-anchor="middle">2.75</text><text transform="translate(660.5,890.0) scale(1,1.350)" text-anchor="middle">3.00</text></g></g>
<path d="M520.8 575.3h1.2M525 575.3h1.6M533 575.3h1.6" stroke="#c8c8c8" stroke-width="0.7"/>
<g font-family="'Liberation Serif','DejaVu Serif',serif" font-size="20.3" fill="#111" stroke="#111" stroke-width="0.22"><text x="110.1" y="297.2" textLength="22.3" lengthAdjust="spacingAndGlyphs">(a)</text><text x="142.2" y="297.2" textLength="86.7" lengthAdjust="spacingAndGlyphs">1995-2000</text><text x="458.0" y="296.8" textLength="23.9" lengthAdjust="spacingAndGlyphs">(b)</text><text x="490.7" y="296.8" textLength="85.4" lengthAdjust="spacingAndGlyphs">2000-2005</text><text x="110.5" y="605.2" textLength="21.3" lengthAdjust="spacingAndGlyphs">(c)</text><text x="141.8" y="605.2" textLength="86.2" lengthAdjust="spacingAndGlyphs">2002-2007</text><text x="458.0" y="605.2" textLength="23.9" lengthAdjust="spacingAndGlyphs">(d)</text><text x="490.7" y="605.2" textLength="85.8" lengthAdjust="spacingAndGlyphs">2007-2012</text><text x="110.5" y="922.1" textLength="21.5" lengthAdjust="spacingAndGlyphs">(e)</text><text x="141.8" y="922.1" textLength="86.7" lengthAdjust="spacingAndGlyphs">2009-2014</text><text x="460.0" y="922.1" textLength="19.4" lengthAdjust="spacingAndGlyphs">(f)</text><text x="489.2" y="922.1" textLength="86.3" lengthAdjust="spacingAndGlyphs">2015-2019</text></g>
</svg></body></html>
